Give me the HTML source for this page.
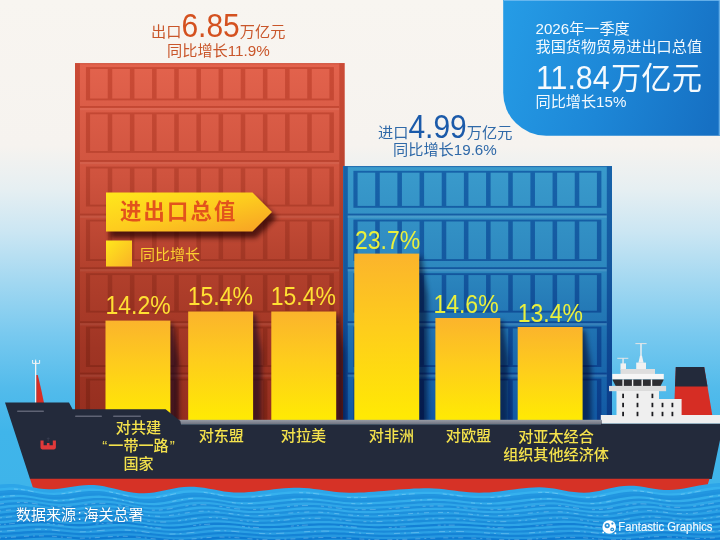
<!DOCTYPE html>
<html lang="zh-CN">
<head>
<meta charset="utf-8">
<title>2026年一季度我国货物贸易进出口总值</title>
<style>
html,body{margin:0;padding:0;background:#f6f3f0;}
body{width:720px;height:540px;overflow:hidden;position:relative;font-family:"Liberation Sans","Noto Sans CJK SC",sans-serif;}
#stage{position:absolute;left:0;top:0;width:720px;height:540px;overflow:hidden;}
svg{position:absolute;left:0;top:0;display:block;}
.t{position:absolute;white-space:nowrap;line-height:1;margin:0;padding:0;}
.s15{font-size:15px;}
.s30{font-size:30px;}
.big{font-size:30px;}
.dg{display:inline-block;transform:scaleY(1.08);transform-origin:50% 86%;}
.exp .s15,.exp.s15,.imp .s15,.imp.s15{font-size:15.2px;}
.exp{color:#c9562a;}
.exp .big{color:#d4511f;}
.imp{color:#2f69a8;}
.imp .big{color:#1b5aa9;}
.pn{color:#f4fafe;font-weight:400;}
.pn.s15{font-size:15.15px;}
.pn.s30{font-size:30.3px;}
.pn .d{margin-right:1.5px;}
.bn{font-size:21.3px;font-weight:700;color:#e2531c;letter-spacing:2.2px;}
.lg{color:#fcd030;}
.val{font-size:23px;}
.val span{display:inline-block;transform:scaleY(1.13);transform-origin:50% 100%;}
.vr{color:#ffe033;}
.vb{color:#eaf03c;}
.cat{font-size:15.1px;font-weight:500;color:#f4e24c;text-align:center;line-height:18.3px;}
.q{margin:0 1px;}
.col{margin:0 1.6px;}
.src{color:#fff;text-shadow:0 0 2px rgba(0,60,120,.5);}
.logo{font-size:11.3px;color:#f2faff;font-weight:400;-webkit-text-stroke:0.15px #f2faff;transform:scaleY(1.09);transform-origin:0 100%;}
</style>
</head>
<body>
<div id="stage">
<svg width="720" height="540" viewBox="0 0 720 540">
<defs>
<linearGradient id="bg" x1="0" y1="0" x2="0" y2="540" gradientUnits="userSpaceOnUse">
 <stop offset="0" stop-color="#f8f5f0"/>
 <stop offset="0.27" stop-color="#f6f3ef"/>
 <stop offset="0.35" stop-color="#e6eff2"/>
 <stop offset="0.43" stop-color="#cbe6f3"/>
 <stop offset="0.52" stop-color="#a3d8f1"/>
 <stop offset="0.62" stop-color="#78c9ef"/>
 <stop offset="0.72" stop-color="#52bbeb"/>
 <stop offset="0.80" stop-color="#40b5ea"/>
 <stop offset="1" stop-color="#3cb3ea"/>
</linearGradient>
<linearGradient id="panel" x1="503" y1="30" x2="720" y2="95" gradientUnits="userSpaceOnUse">
 <stop offset="0" stop-color="#259be5"/>
 <stop offset="0.5" stop-color="#1d87d7"/>
 <stop offset="1" stop-color="#1670c3"/>
</linearGradient>
<linearGradient id="rL" x1="0" y1="63" x2="0" y2="420" gradientUnits="userSpaceOnUse">
 <stop offset="0" stop-color="#e3634d"/>
 <stop offset="0.32" stop-color="#cf533e"/>
 <stop offset="0.58" stop-color="#b2402c"/>
 <stop offset="0.8" stop-color="#a03524"/>
 <stop offset="1" stop-color="#952e1f"/>
</linearGradient>
<linearGradient id="rD" x1="0" y1="63" x2="0" y2="420" gradientUnits="userSpaceOnUse">
 <stop offset="0" stop-color="#cb4b36"/>
 <stop offset="0.32" stop-color="#b9432f"/>
 <stop offset="0.58" stop-color="#9e3523"/>
 <stop offset="0.8" stop-color="#8c2b1b"/>
 <stop offset="1" stop-color="#822617"/>
</linearGradient>
<linearGradient id="bL" x1="0" y1="166" x2="0" y2="420" gradientUnits="userSpaceOnUse">
 <stop offset="0" stop-color="#3a9bcc"/>
 <stop offset="0.4" stop-color="#2d88bf"/>
 <stop offset="0.7" stop-color="#1d6daf"/>
 <stop offset="1" stop-color="#1259a4"/>
</linearGradient>
<linearGradient id="bD" x1="0" y1="166" x2="0" y2="420" gradientUnits="userSpaceOnUse">
 <stop offset="0" stop-color="#1763aa"/>
 <stop offset="0.4" stop-color="#14589f"/>
 <stop offset="0.7" stop-color="#0e4893"/>
 <stop offset="1" stop-color="#0a3b88"/>
</linearGradient>
<linearGradient id="bar" x1="0" y1="0" x2="0" y2="1">
 <stop offset="0" stop-color="#fbb42c"/>
 <stop offset="0.45" stop-color="#fecd1c"/>
 <stop offset="1" stop-color="#ffea03"/>
</linearGradient>
<linearGradient id="ban" x1="0" y1="0" x2="1" y2="1">
 <stop offset="0" stop-color="#ffe81c"/>
 <stop offset="0.5" stop-color="#fdcc1e"/>
 <stop offset="1" stop-color="#f7a025"/>
</linearGradient>
<linearGradient id="lgd" x1="0" y1="0" x2="1" y2="1">
 <stop offset="0" stop-color="#ffe81c"/>
 <stop offset="1" stop-color="#f9b226"/>
</linearGradient>
<linearGradient id="sh" x1="0" y1="0" x2="1" y2="0">
 <stop offset="0" stop-color="#000" stop-opacity="0.5"/>
 <stop offset="0.5" stop-color="#000" stop-opacity="0.3"/>
 <stop offset="1" stop-color="#000" stop-opacity="0"/>
</linearGradient>
<linearGradient id="deck" x1="0" y1="0" x2="0" y2="1">
 <stop offset="0" stop-color="#999da7"/>
 <stop offset="1" stop-color="#6a6e7b"/>
</linearGradient>
<filter id="blur3" x="-60%" y="-10%" width="220%" height="120%"><feGaussianBlur stdDeviation="2.6"/></filter>
<clipPath id="clipc"><rect x="75" y="63" width="537" height="357.5"/></clipPath>
<filter id="blur2" x="-20%" y="-20%" width="140%" height="140%"><feGaussianBlur stdDeviation="2.5"/></filter>
</defs>

<rect width="720" height="540" fill="url(#bg)"/>
<path d="M503.2 0 H720 V135.7 H546.2 A43 43 0 0 1 503.2 92.7 Z" fill="url(#panel)"/>
<rect x="504" y="0" width="216" height="1" fill="#7cc0f2" opacity="0.75"/>
<rect x="718.7" y="0" width="1.3" height="135.5" fill="#7cc0f2" opacity="0.75"/>
<g id="red"><rect x="75" y="63.3" width="269.5" height="357.7" fill="url(#rL)"/>
<rect x="75" y="63.3" width="4.9" height="357.7" fill="url(#rD)"/>
<rect x="339.3" y="63.3" width="5.2" height="357.7" fill="url(#rD)"/>
<rect x="75" y="63.3" width="269.5" height="0.9" fill="url(#rD)"/>
<rect x="79.9" y="106.0" width="259.4" height="1.9" fill="url(#rD)"/>
<rect x="79.9" y="107.9" width="259.4" height="2.3" fill="#fff" opacity="0.06"/>
<rect x="79.9" y="160.0" width="259.4" height="1.9" fill="url(#rD)"/>
<rect x="79.9" y="161.9" width="259.4" height="2.3" fill="#fff" opacity="0.06"/>
<rect x="79.9" y="213.6" width="259.4" height="1.9" fill="url(#rD)"/>
<rect x="79.9" y="215.5" width="259.4" height="2.3" fill="#fff" opacity="0.06"/>
<rect x="79.9" y="267.2" width="259.4" height="1.9" fill="url(#rD)"/>
<rect x="79.9" y="269.1" width="259.4" height="2.3" fill="#fff" opacity="0.06"/>
<rect x="79.9" y="321.2" width="259.4" height="1.9" fill="url(#rD)"/>
<rect x="79.9" y="323.1" width="259.4" height="2.3" fill="#fff" opacity="0.06"/>
<rect x="79.9" y="372.6" width="259.4" height="1.9" fill="url(#rD)"/>
<rect x="79.9" y="374.5" width="259.4" height="2.3" fill="#fff" opacity="0.06"/>
<rect x="85.9" y="67.1" width="248" height="33.3" fill="url(#rD)"/>
<rect x="90.10" y="69.0" width="17.6" height="29.5" fill="url(#rL)"/>
<rect x="112.27" y="69.0" width="17.6" height="29.5" fill="url(#rL)"/>
<rect x="134.44" y="69.0" width="17.6" height="29.5" fill="url(#rL)"/>
<rect x="156.61" y="69.0" width="17.6" height="29.5" fill="url(#rL)"/>
<rect x="178.78" y="69.0" width="17.6" height="29.5" fill="url(#rL)"/>
<rect x="200.95" y="69.0" width="17.6" height="29.5" fill="url(#rL)"/>
<rect x="223.12" y="69.0" width="17.6" height="29.5" fill="url(#rL)"/>
<rect x="245.29" y="69.0" width="17.6" height="29.5" fill="url(#rL)"/>
<rect x="267.46" y="69.0" width="17.6" height="29.5" fill="url(#rL)"/>
<rect x="289.63" y="69.0" width="17.6" height="29.5" fill="url(#rL)"/>
<rect x="311.80" y="69.0" width="17.6" height="29.5" fill="url(#rL)"/>
<rect x="85.9" y="112.4" width="248" height="40.5" fill="url(#rD)"/>
<rect x="90.10" y="114.3" width="17.6" height="36.7" fill="url(#rL)"/>
<rect x="112.27" y="114.3" width="17.6" height="36.7" fill="url(#rL)"/>
<rect x="134.44" y="114.3" width="17.6" height="36.7" fill="url(#rL)"/>
<rect x="156.61" y="114.3" width="17.6" height="36.7" fill="url(#rL)"/>
<rect x="178.78" y="114.3" width="17.6" height="36.7" fill="url(#rL)"/>
<rect x="200.95" y="114.3" width="17.6" height="36.7" fill="url(#rL)"/>
<rect x="223.12" y="114.3" width="17.6" height="36.7" fill="url(#rL)"/>
<rect x="245.29" y="114.3" width="17.6" height="36.7" fill="url(#rL)"/>
<rect x="267.46" y="114.3" width="17.6" height="36.7" fill="url(#rL)"/>
<rect x="289.63" y="114.3" width="17.6" height="36.7" fill="url(#rL)"/>
<rect x="311.80" y="114.3" width="17.6" height="36.7" fill="url(#rL)"/>
<rect x="85.9" y="166.6" width="248" height="39.9" fill="url(#rD)"/>
<rect x="90.10" y="168.5" width="17.6" height="36.1" fill="url(#rL)"/>
<rect x="112.27" y="168.5" width="17.6" height="36.1" fill="url(#rL)"/>
<rect x="134.44" y="168.5" width="17.6" height="36.1" fill="url(#rL)"/>
<rect x="156.61" y="168.5" width="17.6" height="36.1" fill="url(#rL)"/>
<rect x="178.78" y="168.5" width="17.6" height="36.1" fill="url(#rL)"/>
<rect x="200.95" y="168.5" width="17.6" height="36.1" fill="url(#rL)"/>
<rect x="223.12" y="168.5" width="17.6" height="36.1" fill="url(#rL)"/>
<rect x="245.29" y="168.5" width="17.6" height="36.1" fill="url(#rL)"/>
<rect x="267.46" y="168.5" width="17.6" height="36.1" fill="url(#rL)"/>
<rect x="289.63" y="168.5" width="17.6" height="36.1" fill="url(#rL)"/>
<rect x="311.80" y="168.5" width="17.6" height="36.1" fill="url(#rL)"/>
<rect x="85.9" y="219.6" width="248" height="41.4" fill="url(#rD)"/>
<rect x="90.10" y="221.5" width="17.6" height="37.6" fill="url(#rL)"/>
<rect x="112.27" y="221.5" width="17.6" height="37.6" fill="url(#rL)"/>
<rect x="134.44" y="221.5" width="17.6" height="37.6" fill="url(#rL)"/>
<rect x="156.61" y="221.5" width="17.6" height="37.6" fill="url(#rL)"/>
<rect x="178.78" y="221.5" width="17.6" height="37.6" fill="url(#rL)"/>
<rect x="200.95" y="221.5" width="17.6" height="37.6" fill="url(#rL)"/>
<rect x="223.12" y="221.5" width="17.6" height="37.6" fill="url(#rL)"/>
<rect x="245.29" y="221.5" width="17.6" height="37.6" fill="url(#rL)"/>
<rect x="267.46" y="221.5" width="17.6" height="37.6" fill="url(#rL)"/>
<rect x="289.63" y="221.5" width="17.6" height="37.6" fill="url(#rL)"/>
<rect x="311.80" y="221.5" width="17.6" height="37.6" fill="url(#rL)"/>
<rect x="85.9" y="273.2" width="248" height="39.4" fill="url(#rD)"/>
<rect x="90.10" y="275.1" width="17.6" height="35.6" fill="url(#rL)"/>
<rect x="112.27" y="275.1" width="17.6" height="35.6" fill="url(#rL)"/>
<rect x="134.44" y="275.1" width="17.6" height="35.6" fill="url(#rL)"/>
<rect x="156.61" y="275.1" width="17.6" height="35.6" fill="url(#rL)"/>
<rect x="178.78" y="275.1" width="17.6" height="35.6" fill="url(#rL)"/>
<rect x="200.95" y="275.1" width="17.6" height="35.6" fill="url(#rL)"/>
<rect x="223.12" y="275.1" width="17.6" height="35.6" fill="url(#rL)"/>
<rect x="245.29" y="275.1" width="17.6" height="35.6" fill="url(#rL)"/>
<rect x="267.46" y="275.1" width="17.6" height="35.6" fill="url(#rL)"/>
<rect x="289.63" y="275.1" width="17.6" height="35.6" fill="url(#rL)"/>
<rect x="311.80" y="275.1" width="17.6" height="35.6" fill="url(#rL)"/>
<rect x="85.9" y="326.6" width="248" height="40.4" fill="url(#rD)"/>
<rect x="90.10" y="328.5" width="17.6" height="36.6" fill="url(#rL)"/>
<rect x="112.27" y="328.5" width="17.6" height="36.6" fill="url(#rL)"/>
<rect x="134.44" y="328.5" width="17.6" height="36.6" fill="url(#rL)"/>
<rect x="156.61" y="328.5" width="17.6" height="36.6" fill="url(#rL)"/>
<rect x="178.78" y="328.5" width="17.6" height="36.6" fill="url(#rL)"/>
<rect x="200.95" y="328.5" width="17.6" height="36.6" fill="url(#rL)"/>
<rect x="223.12" y="328.5" width="17.6" height="36.6" fill="url(#rL)"/>
<rect x="245.29" y="328.5" width="17.6" height="36.6" fill="url(#rL)"/>
<rect x="267.46" y="328.5" width="17.6" height="36.6" fill="url(#rL)"/>
<rect x="289.63" y="328.5" width="17.6" height="36.6" fill="url(#rL)"/>
<rect x="311.80" y="328.5" width="17.6" height="36.6" fill="url(#rL)"/>
<rect x="85.9" y="378.6" width="248" height="42.4" fill="url(#rD)"/>
<rect x="90.10" y="380.5" width="17.6" height="40.5" fill="url(#rL)"/>
<rect x="112.27" y="380.5" width="17.6" height="40.5" fill="url(#rL)"/>
<rect x="134.44" y="380.5" width="17.6" height="40.5" fill="url(#rL)"/>
<rect x="156.61" y="380.5" width="17.6" height="40.5" fill="url(#rL)"/>
<rect x="178.78" y="380.5" width="17.6" height="40.5" fill="url(#rL)"/>
<rect x="200.95" y="380.5" width="17.6" height="40.5" fill="url(#rL)"/>
<rect x="223.12" y="380.5" width="17.6" height="40.5" fill="url(#rL)"/>
<rect x="245.29" y="380.5" width="17.6" height="40.5" fill="url(#rL)"/>
<rect x="267.46" y="380.5" width="17.6" height="40.5" fill="url(#rL)"/>
<rect x="289.63" y="380.5" width="17.6" height="40.5" fill="url(#rL)"/>
<rect x="311.80" y="380.5" width="17.6" height="40.5" fill="url(#rL)"/></g>
<g id="blue"><rect x="343.2" y="166.2" width="268.8" height="254.8" fill="url(#bL)"/>
<rect x="343.2" y="166.2" width="4.6" height="254.8" fill="url(#bD)"/>
<rect x="606.8" y="166.2" width="5.2" height="254.8" fill="url(#bD)"/>
<rect x="343.2" y="166.2" width="268.8" height="0.9" fill="url(#bD)"/>
<rect x="347.4" y="213.6" width="259.4" height="1.9" fill="url(#bD)"/>
<rect x="347.4" y="215.5" width="259.4" height="2.3" fill="#fff" opacity="0.1"/>
<rect x="347.4" y="267.2" width="259.4" height="1.9" fill="url(#bD)"/>
<rect x="347.4" y="269.1" width="259.4" height="2.3" fill="#fff" opacity="0.1"/>
<rect x="347.4" y="321.2" width="259.4" height="1.9" fill="url(#bD)"/>
<rect x="347.4" y="323.1" width="259.4" height="2.3" fill="#fff" opacity="0.1"/>
<rect x="347.4" y="372.6" width="259.4" height="1.9" fill="url(#bD)"/>
<rect x="347.4" y="374.5" width="259.4" height="2.3" fill="#fff" opacity="0.1"/>
<rect x="353.4" y="170.8" width="248" height="37.0" fill="url(#bD)"/>
<rect x="357.60" y="172.7" width="17.6" height="33.2" fill="url(#bL)"/>
<rect x="379.77" y="172.7" width="17.6" height="33.2" fill="url(#bL)"/>
<rect x="401.94" y="172.7" width="17.6" height="33.2" fill="url(#bL)"/>
<rect x="424.11" y="172.7" width="17.6" height="33.2" fill="url(#bL)"/>
<rect x="446.28" y="172.7" width="17.6" height="33.2" fill="url(#bL)"/>
<rect x="468.45" y="172.7" width="17.6" height="33.2" fill="url(#bL)"/>
<rect x="490.62" y="172.7" width="17.6" height="33.2" fill="url(#bL)"/>
<rect x="512.79" y="172.7" width="17.6" height="33.2" fill="url(#bL)"/>
<rect x="534.96" y="172.7" width="17.6" height="33.2" fill="url(#bL)"/>
<rect x="557.13" y="172.7" width="17.6" height="33.2" fill="url(#bL)"/>
<rect x="579.30" y="172.7" width="17.6" height="33.2" fill="url(#bL)"/>
<rect x="353.4" y="219.6" width="248" height="41.4" fill="url(#bD)"/>
<rect x="357.60" y="221.5" width="17.6" height="37.6" fill="url(#bL)"/>
<rect x="379.77" y="221.5" width="17.6" height="37.6" fill="url(#bL)"/>
<rect x="401.94" y="221.5" width="17.6" height="37.6" fill="url(#bL)"/>
<rect x="424.11" y="221.5" width="17.6" height="37.6" fill="url(#bL)"/>
<rect x="446.28" y="221.5" width="17.6" height="37.6" fill="url(#bL)"/>
<rect x="468.45" y="221.5" width="17.6" height="37.6" fill="url(#bL)"/>
<rect x="490.62" y="221.5" width="17.6" height="37.6" fill="url(#bL)"/>
<rect x="512.79" y="221.5" width="17.6" height="37.6" fill="url(#bL)"/>
<rect x="534.96" y="221.5" width="17.6" height="37.6" fill="url(#bL)"/>
<rect x="557.13" y="221.5" width="17.6" height="37.6" fill="url(#bL)"/>
<rect x="579.30" y="221.5" width="17.6" height="37.6" fill="url(#bL)"/>
<rect x="353.4" y="273.2" width="248" height="39.4" fill="url(#bD)"/>
<rect x="357.60" y="275.1" width="17.6" height="35.6" fill="url(#bL)"/>
<rect x="379.77" y="275.1" width="17.6" height="35.6" fill="url(#bL)"/>
<rect x="401.94" y="275.1" width="17.6" height="35.6" fill="url(#bL)"/>
<rect x="424.11" y="275.1" width="17.6" height="35.6" fill="url(#bL)"/>
<rect x="446.28" y="275.1" width="17.6" height="35.6" fill="url(#bL)"/>
<rect x="468.45" y="275.1" width="17.6" height="35.6" fill="url(#bL)"/>
<rect x="490.62" y="275.1" width="17.6" height="35.6" fill="url(#bL)"/>
<rect x="512.79" y="275.1" width="17.6" height="35.6" fill="url(#bL)"/>
<rect x="534.96" y="275.1" width="17.6" height="35.6" fill="url(#bL)"/>
<rect x="557.13" y="275.1" width="17.6" height="35.6" fill="url(#bL)"/>
<rect x="579.30" y="275.1" width="17.6" height="35.6" fill="url(#bL)"/>
<rect x="353.4" y="326.6" width="248" height="40.4" fill="url(#bD)"/>
<rect x="357.60" y="328.5" width="17.6" height="36.6" fill="url(#bL)"/>
<rect x="379.77" y="328.5" width="17.6" height="36.6" fill="url(#bL)"/>
<rect x="401.94" y="328.5" width="17.6" height="36.6" fill="url(#bL)"/>
<rect x="424.11" y="328.5" width="17.6" height="36.6" fill="url(#bL)"/>
<rect x="446.28" y="328.5" width="17.6" height="36.6" fill="url(#bL)"/>
<rect x="468.45" y="328.5" width="17.6" height="36.6" fill="url(#bL)"/>
<rect x="490.62" y="328.5" width="17.6" height="36.6" fill="url(#bL)"/>
<rect x="512.79" y="328.5" width="17.6" height="36.6" fill="url(#bL)"/>
<rect x="534.96" y="328.5" width="17.6" height="36.6" fill="url(#bL)"/>
<rect x="557.13" y="328.5" width="17.6" height="36.6" fill="url(#bL)"/>
<rect x="579.30" y="328.5" width="17.6" height="36.6" fill="url(#bL)"/>
<rect x="353.4" y="378.6" width="248" height="42.4" fill="url(#bD)"/>
<rect x="357.60" y="380.5" width="17.6" height="40.5" fill="url(#bL)"/>
<rect x="379.77" y="380.5" width="17.6" height="40.5" fill="url(#bL)"/>
<rect x="401.94" y="380.5" width="17.6" height="40.5" fill="url(#bL)"/>
<rect x="424.11" y="380.5" width="17.6" height="40.5" fill="url(#bL)"/>
<rect x="446.28" y="380.5" width="17.6" height="40.5" fill="url(#bL)"/>
<rect x="468.45" y="380.5" width="17.6" height="40.5" fill="url(#bL)"/>
<rect x="490.62" y="380.5" width="17.6" height="40.5" fill="url(#bL)"/>
<rect x="512.79" y="380.5" width="17.6" height="40.5" fill="url(#bL)"/>
<rect x="534.96" y="380.5" width="17.6" height="40.5" fill="url(#bL)"/>
<rect x="557.13" y="380.5" width="17.6" height="40.5" fill="url(#bL)"/>
<rect x="579.30" y="380.5" width="17.6" height="40.5" fill="url(#bL)"/></g>
<path d="M110 198 H256 L277 217.5 L256 238 H110 Z" fill="#200300" opacity="0.7" filter="url(#blur2)"/>
<path d="M106 192.5 H252.5 L272 212 L252.5 231.5 H106 Z" fill="url(#ban)"/>
<rect x="106" y="240.5" width="26" height="26" fill="url(#lgd)"/>
<path d="M166.4 323.6 L172.9 323.6 L178.9 362.6 L178.9 424 L166.4 424 Z" fill="#05001a" opacity="0.55" filter="url(#blur3)" clip-path="url(#clipc)"/>
<rect x="105.5" y="320.6" width="64.9" height="99.4" fill="url(#bar)"/>
<path d="M249.1 314.5 L255.6 314.5 L261.6 353.5 L261.6 424 L249.1 424 Z" fill="#05001a" opacity="0.55" filter="url(#blur3)" clip-path="url(#clipc)"/>
<rect x="188.2" y="311.5" width="64.9" height="108.5" fill="url(#bar)"/>
<path d="M332.2 314.5 L338.7 314.5 L344.7 353.5 L344.7 424 L332.2 424 Z" fill="#05001a" opacity="0.55" filter="url(#blur3)" clip-path="url(#clipc)"/>
<rect x="271.3" y="311.5" width="64.9" height="108.5" fill="url(#bar)"/>
<path d="M415.2 256.6 L421.7 256.6 L427.7 295.6 L427.7 424 L415.2 424 Z" fill="#05001a" opacity="0.55" filter="url(#blur3)" clip-path="url(#clipc)"/>
<rect x="354.3" y="253.6" width="64.9" height="166.4" fill="url(#bar)"/>
<path d="M496.3 321.0 L502.8 321.0 L508.8 360.0 L508.8 424 L496.3 424 Z" fill="#05001a" opacity="0.55" filter="url(#blur3)" clip-path="url(#clipc)"/>
<rect x="435.4" y="318.0" width="64.9" height="102.0" fill="url(#bar)"/>
<path d="M578.6 330.0 L585.1 330.0 L591.1 369.0 L591.1 424 L578.6 424 Z" fill="#05001a" opacity="0.55" filter="url(#blur3)" clip-path="url(#clipc)"/>
<rect x="517.7" y="327.0" width="64.9" height="93.0" fill="url(#bar)"/>
<rect x="35" y="361" width="1.3" height="42" fill="#f4f4f4"/>
<path d="M32.6 360 V363.4 H39.6 V360 M35.65 359.6 V363.4" stroke="#f4f4f4" stroke-width="1" fill="none"/>
<path d="M36.4 375 L37.8 375 Q41.5 390 44 403 L36.4 403 Z" fill="#d62d24"/>
<path d="M675.8 367 H704.2 L712.6 417 H673.8 Z" fill="#d62d24"/>
<path d="M675.8 367 H704.2 L707.5 386.5 H675 Z" fill="#232a3b"/>
<g id="bridge">
<rect x="640.3" y="343.5" width="1.4" height="13" fill="#f1f1f1"/>
<rect x="635.4" y="343.1" width="11.2" height="1" fill="#e4e4e4"/>
<path d="M640 355.7 H642 L643.6 362.8 H638.4 Z" fill="#f1f1f1"/>
<rect x="636.2" y="362.6" width="9.8" height="7" fill="#f1f1f1"/>
<rect x="622.4" y="358.2" width="1.3" height="6" fill="#f1f1f1"/>
<rect x="617.3" y="357.8" width="11" height="1" fill="#e4e4e4"/>
<rect x="620.5" y="363.4" width="5.5" height="6.4" fill="#f1f1f1"/>
<rect x="620.5" y="369" width="34.5" height="5.2" fill="#dedede"/>
<rect x="612.3" y="373.9" width="51.5" height="5.6" fill="#f6f6f6"/>
<path d="M612.3 379.4 H663.8 L660.6 385.9 H615.7 Z" fill="#2d2d31"/>
<rect x="622.4" y="379.4" width="1.4" height="6.6" fill="#f4f4f4"/>
<rect x="631.9" y="379.4" width="1.4" height="6.6" fill="#f4f4f4"/>
<rect x="641.5" y="379.4" width="1.4" height="6.6" fill="#f4f4f4"/>
<rect x="650.8" y="379.4" width="1.4" height="6.6" fill="#f4f4f4"/>
<rect x="609" y="385.9" width="57.1" height="5.3" fill="#dcdcdc"/>
<rect x="616.5" y="391" width="42.5" height="26" fill="#efefef"/>
<rect x="658.5" y="399" width="23.1" height="18" fill="#efefef"/>
<rect x="600.8" y="415" width="119.2" height="8.7" fill="#efefef"/>
<rect x="622.2" y="393.7" width="1.8" height="4.4" fill="#1c1c20"/>
<rect x="622.2" y="402.8" width="1.8" height="4.4" fill="#1c1c20"/>
<rect x="622.2" y="411.8" width="1.8" height="4.4" fill="#1c1c20"/>
<rect x="636.6" y="393.7" width="1.8" height="4.4" fill="#1c1c20"/>
<rect x="636.6" y="402.8" width="1.8" height="4.4" fill="#1c1c20"/>
<rect x="636.6" y="411.8" width="1.8" height="4.4" fill="#1c1c20"/>
<rect x="651.5" y="393.7" width="1.8" height="4.4" fill="#1c1c20"/>
<rect x="651.5" y="402.8" width="1.8" height="4.4" fill="#1c1c20"/>
<rect x="651.5" y="411.8" width="1.8" height="4.4" fill="#1c1c20"/>
<rect x="661.6" y="402.8" width="1.8" height="4.4" fill="#1c1c20"/>
<rect x="661.6" y="411.8" width="1.8" height="4.4" fill="#1c1c20"/>
<rect x="671.5" y="402.8" width="1.8" height="4.4" fill="#1c1c20"/>
<rect x="671.5" y="411.8" width="1.8" height="4.4" fill="#1c1c20"/>
</g>
<rect x="170" y="419.8" width="432" height="5" fill="url(#deck)"/>
<path d="M5 402.5 H69 L72.6 409.3 H165.6 L180.3 421 L181 424.4 H601 V423.7 H720 V440 L711.8 479 H30 Z" fill="#232a3b"/>
<path d="M30 478.8 H709.5 L707 487 L680 497 H36 Z" fill="#d63226"/>
<rect x="17" y="410.6" width="27" height="1.5" rx="0.75" fill="#5f6374"/>
<rect x="75" y="415.6" width="27" height="1.5" rx="0.75" fill="#5f6374"/>
<rect x="113" y="415.6" width="28" height="1.5" rx="0.75" fill="#5f6374"/>
<path d="M40.5 440.6 h3.1 v4.6 h3.3 v-2.2 h2.6 v2.2 h3.3 v-4.6 h3.1 v7 q0 1.8 -1.8 1.8 h-11.8 q-1.8 0 -1.8 -1.8 Z" fill="#e0393a"/><path d="M46.8 438.6 h2.8 M48.2 437.4 v4" stroke="#3a3f52" stroke-width="0.8" fill="none"/>
<path d="M-6.0 485.2 L-1.0 484.6 L4.0 484.2 L9.0 484.0 L14.0 484.1 L19.0 484.6 L24.0 485.4 L29.0 486.4 L34.0 487.5 L39.0 488.4 L44.0 489.0 L49.0 489.3 L54.0 489.2 L59.0 488.8 L64.0 488.1 L69.0 487.3 L74.0 486.5 L79.0 485.8 L84.0 485.2 L89.0 485.0 L94.0 485.1 L99.0 485.6 L104.0 486.3 L109.0 487.4 L114.0 488.5 L119.0 489.8 L124.0 490.9 L129.0 492.0 L134.0 492.7 L139.0 493.2 L144.0 493.3 L149.0 493.0 L154.0 492.4 L159.0 491.6 L164.0 490.5 L169.0 489.5 L174.0 488.4 L179.0 487.6 L184.0 487.0 L189.0 486.7 L194.0 486.8 L199.0 487.2 L204.0 487.8 L209.0 488.7 L214.0 489.6 L219.0 490.5 L224.0 491.4 L229.0 492.0 L234.0 492.4 L239.0 492.5 L244.0 492.4 L249.0 492.1 L254.0 491.7 L259.0 491.1 L264.0 490.5 L269.0 489.9 L274.0 489.3 L279.0 488.7 L284.0 488.3 L289.0 487.9 L294.0 487.7 L299.0 487.7 L304.0 487.9 L309.0 488.3 L314.0 488.9 L319.0 489.5 L324.0 490.3 L329.0 491.0 L334.0 491.7 L339.0 492.2 L344.0 492.5 L349.0 492.7 L354.0 492.7 L359.0 492.6 L364.0 492.4 L369.0 492.1 L374.0 491.7 L379.0 491.3 L384.0 490.9 L389.0 490.5 L394.0 490.0 L399.0 489.6 L404.0 489.2 L409.0 488.9 L414.0 488.6 L419.0 488.4 L424.0 488.3 L429.0 488.3 L434.0 488.5 L439.0 488.8 L444.0 489.3 L449.0 489.9 L454.0 490.6 L459.0 491.2 L464.0 491.8 L469.0 492.2 L474.0 492.6 L479.0 492.7 L484.0 492.6 L489.0 492.4 L494.0 492.0 L499.0 491.5 L504.0 490.8 L509.0 490.1 L514.0 489.4 L519.0 488.8 L524.0 488.2 L529.0 487.7 L534.0 487.4 L539.0 487.3 L544.0 487.4 L549.0 487.9 L554.0 488.6 L559.0 489.5 L564.0 490.5 L569.0 491.4 L574.0 492.1 L579.0 492.6 L584.0 492.7 L589.0 492.4 L594.0 491.8 L599.0 490.9 L604.0 489.8 L609.0 488.6 L614.0 487.5 L619.0 486.6 L624.0 486.0 L629.0 485.7 L634.0 485.8 L639.0 486.3 L644.0 487.0 L649.0 487.9 L654.0 488.8 L659.0 489.5 L664.0 489.9 L669.0 490.0 L674.0 489.7 L679.0 489.2 L684.0 488.5 L689.0 487.6 L694.0 486.6 L699.0 485.6 L704.0 484.7 L709.0 483.9 L714.0 483.4 L719.0 483.1 L724.0 483.0 L726 545 L-6 545 Z" fill="#2da5e8"/>
<path d="M-6.0 489.0 L-1.0 488.3 L4.0 487.9 L9.0 487.6 L14.0 487.6 L19.0 488.0 L24.0 488.7 L29.0 489.6 L34.0 490.6 L39.0 491.5 L44.0 492.3 L49.0 492.7 L54.0 492.7 L59.0 492.4 L64.0 491.9 L69.0 491.1 L74.0 490.3 L79.0 489.5 L84.0 488.9 L89.0 488.6 L94.0 488.6 L99.0 488.9 L104.0 489.6 L109.0 490.5 L114.0 491.6 L119.0 492.8 L124.0 493.9 L129.0 495.0 L134.0 495.8 L139.0 496.4 L144.0 496.6 L149.0 496.5 L154.0 496.0 L159.0 495.3 L164.0 494.3 L169.0 493.3 L174.0 492.2 L179.0 491.3 L184.0 490.6 L189.0 490.3 L194.0 490.2 L199.0 490.5 L204.0 491.1 L209.0 491.8 L214.0 492.7 L219.0 493.6 L224.0 494.5 L229.0 495.2 L234.0 495.7 L239.0 495.9 L244.0 495.8 L249.0 495.6 L254.0 495.2 L259.0 494.7 L264.0 494.2 L269.0 493.6 L274.0 492.9 L279.0 492.4 L284.0 491.9 L289.0 491.5 L294.0 491.3 L299.0 491.2 L304.0 491.3 L309.0 491.6 L314.0 492.1 L319.0 492.7 L324.0 493.4 L329.0 494.1 L334.0 494.8 L339.0 495.4 L344.0 495.8 L349.0 496.0 L354.0 496.0 L359.0 496.0 L364.0 495.8 L369.0 495.5 L374.0 495.2 L379.0 494.9 L384.0 494.5 L389.0 494.0 L394.0 493.6 L399.0 493.2 L404.0 492.8 L409.0 492.4 L414.0 492.1 L419.0 491.9 L424.0 491.8 L429.0 491.8 L434.0 491.9 L439.0 492.1 L444.0 492.6 L449.0 493.1 L454.0 493.7 L459.0 494.4 L464.0 495.0 L469.0 495.5 L474.0 495.8 L479.0 496.0 L484.0 496.0 L489.0 495.9 L494.0 495.5 L499.0 495.1 L504.0 494.5 L509.0 493.8 L514.0 493.1 L519.0 492.5 L524.0 491.9 L529.0 491.4 L534.0 491.0 L539.0 490.8 L544.0 490.8 L549.0 491.1 L554.0 491.8 L559.0 492.6 L564.0 493.6 L569.0 494.5 L574.0 495.3 L579.0 495.8 L584.0 496.0 L589.0 495.9 L594.0 495.4 L599.0 494.6 L604.0 493.6 L609.0 492.5 L614.0 491.4 L619.0 490.4 L624.0 489.7 L629.0 489.3 L634.0 489.3 L639.0 489.6 L644.0 490.3 L649.0 491.1 L654.0 492.0 L659.0 492.7 L664.0 493.3 L669.0 493.4 L674.0 493.3 L679.0 492.9 L684.0 492.2 L689.0 491.4 L694.0 490.5 L699.0 489.5 L704.0 488.6 L709.0 487.8 L714.0 487.1 L719.0 486.7 L724.0 486.6 L726 545 L-6 545 Z" fill="#36b1ee"/>
<path d="M-6.0 491.5 L-1.0 490.9 L4.0 490.4 L9.0 490.1 L14.0 490.0 L19.0 490.2 L24.0 490.8 L29.0 491.6 L34.0 492.6 L39.0 493.5 L44.0 494.3 L49.0 494.8 L54.0 495.0 L59.0 494.8 L64.0 494.3 L69.0 493.7 L74.0 492.9 L79.0 492.1 L84.0 491.5 L89.0 491.0 L94.0 490.9 L99.0 491.1 L104.0 491.6 L109.0 492.4 L114.0 493.5 L119.0 494.6 L124.0 495.7 L129.0 496.8 L134.0 497.7 L139.0 498.4 L144.0 498.7 L149.0 498.7 L154.0 498.4 L159.0 497.8 L164.0 496.9 L169.0 495.9 L174.0 494.8 L179.0 493.9 L184.0 493.1 L189.0 492.7 L194.0 492.5 L199.0 492.7 L204.0 493.1 L209.0 493.8 L214.0 494.6 L219.0 495.5 L224.0 496.4 L229.0 497.1 L234.0 497.7 L239.0 498.0 L244.0 498.0 L249.0 497.8 L254.0 497.5 L259.0 497.1 L264.0 496.6 L269.0 496.0 L274.0 495.4 L279.0 494.8 L284.0 494.3 L289.0 493.9 L294.0 493.6 L299.0 493.5 L304.0 493.5 L309.0 493.8 L314.0 494.2 L319.0 494.7 L324.0 495.4 L329.0 496.1 L334.0 496.8 L339.0 497.4 L344.0 497.8 L349.0 498.1 L354.0 498.2 L359.0 498.2 L364.0 498.0 L369.0 497.8 L374.0 497.5 L379.0 497.2 L384.0 496.8 L389.0 496.4 L394.0 496.0 L399.0 495.5 L404.0 495.1 L409.0 494.8 L414.0 494.5 L419.0 494.3 L424.0 494.1 L429.0 494.0 L434.0 494.1 L439.0 494.3 L444.0 494.7 L449.0 495.2 L454.0 495.7 L459.0 496.4 L464.0 497.0 L469.0 497.5 L474.0 497.9 L479.0 498.1 L484.0 498.2 L489.0 498.1 L494.0 497.8 L499.0 497.4 L504.0 496.9 L509.0 496.3 L514.0 495.6 L519.0 494.9 L524.0 494.3 L529.0 493.8 L534.0 493.4 L539.0 493.2 L544.0 493.1 L549.0 493.3 L554.0 493.8 L559.0 494.5 L564.0 495.4 L569.0 496.4 L574.0 497.2 L579.0 497.8 L584.0 498.2 L589.0 498.2 L594.0 497.8 L599.0 497.1 L604.0 496.2 L609.0 495.1 L614.0 494.0 L619.0 493.0 L624.0 492.2 L629.0 491.7 L634.0 491.6 L639.0 491.8 L644.0 492.3 L649.0 493.1 L654.0 493.9 L659.0 494.7 L664.0 495.3 L669.0 495.6 L674.0 495.6 L679.0 495.3 L684.0 494.7 L689.0 494.0 L694.0 493.1 L699.0 492.2 L704.0 491.2 L709.0 490.4 L714.0 489.7 L719.0 489.2 L724.0 489.0 L726 545 L-6 545 Z" fill="#2296e0"/>
<path d="M-6.0 494.1 L-1.0 493.5 L4.0 492.9 L9.0 492.5 L14.0 492.4 L19.0 492.4 L24.0 492.9 L29.0 493.6 L34.0 494.5 L39.0 495.5 L44.0 496.3 L49.0 496.9 L54.0 497.2 L59.0 497.1 L64.0 496.8 L69.0 496.2 L74.0 495.5 L79.0 494.7 L84.0 494.0 L89.0 493.5 L94.0 493.3 L99.0 493.3 L104.0 493.7 L109.0 494.4 L114.0 495.4 L119.0 496.4 L124.0 497.6 L129.0 498.7 L134.0 499.6 L139.0 500.3 L144.0 500.8 L149.0 500.9 L154.0 500.7 L159.0 500.2 L164.0 499.4 L169.0 498.5 L174.0 497.4 L179.0 496.5 L184.0 495.7 L189.0 495.1 L194.0 494.8 L199.0 494.9 L204.0 495.2 L209.0 495.8 L214.0 496.6 L219.0 497.4 L224.0 498.3 L229.0 499.1 L234.0 499.7 L239.0 500.1 L244.0 500.2 L249.0 500.1 L254.0 499.8 L259.0 499.5 L264.0 499.0 L269.0 498.4 L274.0 497.8 L279.0 497.3 L284.0 496.7 L289.0 496.3 L294.0 496.0 L299.0 495.8 L304.0 495.8 L309.0 495.9 L314.0 496.3 L319.0 496.8 L324.0 497.4 L329.0 498.1 L334.0 498.7 L339.0 499.4 L344.0 499.9 L349.0 500.2 L354.0 500.4 L359.0 500.3 L364.0 500.2 L369.0 500.1 L374.0 499.8 L379.0 499.5 L384.0 499.1 L389.0 498.7 L394.0 498.3 L399.0 497.9 L404.0 497.5 L409.0 497.2 L414.0 496.8 L419.0 496.6 L424.0 496.4 L429.0 496.3 L434.0 496.3 L439.0 496.5 L444.0 496.8 L449.0 497.2 L454.0 497.8 L459.0 498.3 L464.0 498.9 L469.0 499.5 L474.0 499.9 L479.0 500.2 L484.0 500.4 L489.0 500.3 L494.0 500.1 L499.0 499.8 L504.0 499.3 L509.0 498.7 L514.0 498.1 L519.0 497.4 L524.0 496.8 L529.0 496.2 L534.0 495.8 L539.0 495.5 L544.0 495.4 L549.0 495.5 L554.0 495.9 L559.0 496.5 L564.0 497.3 L569.0 498.3 L574.0 499.1 L579.0 499.8 L584.0 500.2 L589.0 500.4 L594.0 500.1 L599.0 499.6 L604.0 498.8 L609.0 497.8 L614.0 496.7 L619.0 495.7 L624.0 494.8 L629.0 494.2 L634.0 493.9 L639.0 494.0 L644.0 494.4 L649.0 495.1 L654.0 495.9 L659.0 496.7 L664.0 497.4 L669.0 497.8 L674.0 497.9 L679.0 497.6 L684.0 497.2 L689.0 496.5 L694.0 495.7 L699.0 494.8 L704.0 493.9 L709.0 493.0 L714.0 492.3 L719.0 491.8 L724.0 491.5 L726 545 L-6 545 Z" fill="#1f92de"/>
<path d="M-6.0 496.7 L-1.0 496.0 L4.0 495.4 L9.0 495.0 L14.0 494.8 L19.0 494.7 L24.0 495.1 L29.0 495.7 L34.0 496.5 L39.0 497.4 L44.0 498.3 L49.0 499.0 L54.0 499.4 L59.0 499.4 L64.0 499.2 L69.0 498.7 L74.0 498.0 L79.0 497.3 L84.0 496.6 L89.0 496.0 L94.0 495.7 L99.0 495.6 L104.0 495.9 L109.0 496.5 L114.0 497.3 L119.0 498.3 L124.0 499.4 L129.0 500.5 L134.0 501.5 L139.0 502.3 L144.0 502.8 L149.0 503.0 L154.0 503.0 L159.0 502.6 L164.0 501.9 L169.0 501.0 L174.0 500.0 L179.0 499.1 L184.0 498.2 L189.0 497.6 L194.0 497.2 L199.0 497.2 L204.0 497.4 L209.0 497.9 L214.0 498.6 L219.0 499.4 L224.0 500.2 L229.0 501.0 L234.0 501.7 L239.0 502.1 L244.0 502.3 L249.0 502.3 L254.0 502.1 L259.0 501.8 L264.0 501.3 L269.0 500.8 L274.0 500.3 L279.0 499.7 L284.0 499.2 L289.0 498.7 L294.0 498.3 L299.0 498.1 L304.0 498.0 L309.0 498.1 L314.0 498.4 L319.0 498.8 L324.0 499.4 L329.0 500.0 L334.0 500.7 L339.0 501.3 L344.0 501.9 L349.0 502.3 L354.0 502.5 L359.0 502.5 L364.0 502.4 L369.0 502.3 L374.0 502.1 L379.0 501.8 L384.0 501.4 L389.0 501.1 L394.0 500.7 L399.0 500.3 L404.0 499.9 L409.0 499.5 L414.0 499.2 L419.0 498.9 L424.0 498.7 L429.0 498.6 L434.0 498.6 L439.0 498.7 L444.0 498.9 L449.0 499.3 L454.0 499.8 L459.0 500.3 L464.0 500.9 L469.0 501.5 L474.0 501.9 L479.0 502.3 L484.0 502.5 L489.0 502.5 L494.0 502.4 L499.0 502.1 L504.0 501.6 L509.0 501.1 L514.0 500.5 L519.0 499.9 L524.0 499.3 L529.0 498.7 L534.0 498.2 L539.0 497.9 L544.0 497.7 L549.0 497.7 L554.0 498.0 L559.0 498.5 L564.0 499.3 L569.0 500.1 L574.0 501.0 L579.0 501.7 L584.0 502.3 L589.0 502.5 L594.0 502.4 L599.0 502.0 L604.0 501.3 L609.0 500.3 L614.0 499.3 L619.0 498.3 L624.0 497.4 L629.0 496.7 L634.0 496.3 L639.0 496.3 L644.0 496.6 L649.0 497.1 L654.0 497.9 L659.0 498.7 L664.0 499.4 L669.0 499.9 L674.0 500.1 L679.0 500.0 L684.0 499.6 L689.0 499.0 L694.0 498.3 L699.0 497.4 L704.0 496.6 L709.0 495.7 L714.0 494.9 L719.0 494.3 L724.0 494.0 L726 545 L-6 545 Z" fill="#33adeb"/>
<path d="M-6.0 499.3 L-1.0 498.6 L4.0 498.0 L9.0 497.5 L14.0 497.2 L19.0 497.1 L24.0 497.3 L29.0 497.8 L34.0 498.5 L39.0 499.4 L44.0 500.3 L49.0 501.0 L54.0 501.5 L59.0 501.7 L64.0 501.6 L69.0 501.2 L74.0 500.6 L79.0 499.8 L84.0 499.1 L89.0 498.5 L94.0 498.1 L99.0 498.0 L104.0 498.1 L109.0 498.6 L114.0 499.3 L119.0 500.2 L124.0 501.3 L129.0 502.3 L134.0 503.3 L139.0 504.2 L144.0 504.8 L149.0 505.1 L154.0 505.2 L159.0 504.9 L164.0 504.3 L169.0 503.5 L174.0 502.6 L179.0 501.7 L184.0 500.8 L189.0 500.1 L194.0 499.6 L199.0 499.4 L204.0 499.6 L209.0 500.0 L214.0 500.6 L219.0 501.3 L224.0 502.1 L229.0 502.9 L234.0 503.6 L239.0 504.2 L244.0 504.4 L249.0 504.5 L254.0 504.4 L259.0 504.1 L264.0 503.7 L269.0 503.2 L274.0 502.7 L279.0 502.1 L284.0 501.6 L289.0 501.1 L294.0 500.7 L299.0 500.5 L304.0 500.3 L309.0 500.4 L314.0 500.6 L319.0 500.9 L324.0 501.4 L329.0 502.0 L334.0 502.7 L339.0 503.3 L344.0 503.9 L349.0 504.3 L354.0 504.6 L359.0 504.7 L364.0 504.6 L369.0 504.5 L374.0 504.3 L379.0 504.1 L384.0 503.8 L389.0 503.4 L394.0 503.0 L399.0 502.6 L404.0 502.3 L409.0 501.9 L414.0 501.6 L419.0 501.3 L424.0 501.1 L429.0 500.9 L434.0 500.8 L439.0 500.9 L444.0 501.1 L449.0 501.4 L454.0 501.8 L459.0 502.4 L464.0 502.9 L469.0 503.5 L474.0 504.0 L479.0 504.3 L484.0 504.6 L489.0 504.7 L494.0 504.6 L499.0 504.4 L504.0 504.0 L509.0 503.5 L514.0 502.9 L519.0 502.3 L524.0 501.7 L529.0 501.1 L534.0 500.7 L539.0 500.3 L544.0 500.1 L549.0 500.0 L554.0 500.1 L559.0 500.6 L564.0 501.2 L569.0 502.1 L574.0 502.9 L579.0 503.7 L584.0 504.3 L589.0 504.6 L594.0 504.6 L599.0 504.3 L604.0 503.7 L609.0 502.9 L614.0 501.9 L619.0 500.9 L624.0 500.0 L629.0 499.2 L634.0 498.7 L639.0 498.6 L644.0 498.7 L649.0 499.2 L654.0 499.9 L659.0 500.7 L664.0 501.4 L669.0 502.0 L674.0 502.3 L679.0 502.3 L684.0 502.0 L689.0 501.5 L694.0 500.8 L699.0 500.0 L704.0 499.2 L709.0 498.3 L714.0 497.6 L719.0 496.9 L724.0 496.5 L726 545 L-6 545 Z" fill="#1f91dd"/>
<path d="M-6.0 501.8 L-1.0 501.2 L4.0 500.6 L9.0 500.0 L14.0 499.7 L19.0 499.5 L24.0 499.6 L29.0 499.9 L34.0 500.6 L39.0 501.4 L44.0 502.3 L49.0 503.1 L54.0 503.6 L59.0 503.9 L64.0 503.9 L69.0 503.6 L74.0 503.1 L79.0 502.4 L84.0 501.7 L89.0 501.1 L94.0 500.6 L99.0 500.3 L104.0 500.4 L109.0 500.7 L114.0 501.3 L119.0 502.2 L124.0 503.1 L129.0 504.2 L134.0 505.2 L139.0 506.1 L144.0 506.8 L149.0 507.2 L154.0 507.3 L159.0 507.2 L164.0 506.7 L169.0 506.0 L174.0 505.2 L179.0 504.2 L184.0 503.3 L189.0 502.6 L194.0 502.0 L199.0 501.8 L204.0 501.8 L209.0 502.1 L214.0 502.6 L219.0 503.3 L224.0 504.1 L229.0 504.9 L234.0 505.6 L239.0 506.2 L244.0 506.5 L249.0 506.7 L254.0 506.6 L259.0 506.4 L264.0 506.0 L269.0 505.6 L274.0 505.1 L279.0 504.6 L284.0 504.0 L289.0 503.5 L294.0 503.1 L299.0 502.8 L304.0 502.6 L309.0 502.6 L314.0 502.7 L319.0 503.1 L324.0 503.5 L329.0 504.1 L334.0 504.7 L339.0 505.3 L344.0 505.9 L349.0 506.3 L354.0 506.7 L359.0 506.8 L364.0 506.8 L369.0 506.7 L374.0 506.6 L379.0 506.3 L384.0 506.0 L389.0 505.7 L394.0 505.4 L399.0 505.0 L404.0 504.6 L409.0 504.2 L414.0 503.9 L419.0 503.6 L424.0 503.4 L429.0 503.2 L434.0 503.1 L439.0 503.1 L444.0 503.2 L449.0 503.5 L454.0 503.9 L459.0 504.4 L464.0 504.9 L469.0 505.5 L474.0 506.0 L479.0 506.4 L484.0 506.7 L489.0 506.8 L494.0 506.8 L499.0 506.6 L504.0 506.3 L509.0 505.9 L514.0 505.3 L519.0 504.8 L524.0 504.2 L529.0 503.6 L534.0 503.1 L539.0 502.7 L544.0 502.4 L549.0 502.3 L554.0 502.3 L559.0 502.7 L564.0 503.2 L569.0 504.0 L574.0 504.8 L579.0 505.6 L584.0 506.3 L589.0 506.7 L594.0 506.8 L599.0 506.6 L604.0 506.2 L609.0 505.4 L614.0 504.5 L619.0 503.5 L624.0 502.6 L629.0 501.8 L634.0 501.2 L639.0 500.9 L644.0 501.0 L649.0 501.3 L654.0 501.9 L659.0 502.7 L664.0 503.4 L669.0 504.1 L674.0 504.4 L679.0 504.5 L684.0 504.4 L689.0 504.0 L694.0 503.4 L699.0 502.6 L704.0 501.8 L709.0 501.0 L714.0 500.2 L719.0 499.5 L724.0 499.0 L726 545 L-6 545 Z" fill="#2fa7e8"/>
<path d="M-6.0 504.4 L-1.0 503.7 L4.0 503.1 L9.0 502.6 L14.0 502.2 L19.0 501.9 L24.0 501.9 L29.0 502.1 L34.0 502.7 L39.0 503.4 L44.0 504.3 L49.0 505.1 L54.0 505.7 L59.0 506.1 L64.0 506.2 L69.0 506.0 L74.0 505.5 L79.0 504.9 L84.0 504.2 L89.0 503.6 L94.0 503.1 L99.0 502.8 L104.0 502.7 L109.0 502.9 L114.0 503.4 L119.0 504.2 L124.0 505.1 L129.0 506.1 L134.0 507.0 L139.0 508.0 L144.0 508.7 L149.0 509.2 L154.0 509.4 L159.0 509.4 L164.0 509.1 L169.0 508.5 L174.0 507.7 L179.0 506.8 L184.0 505.9 L189.0 505.1 L194.0 504.5 L199.0 504.1 L204.0 504.1 L209.0 504.3 L214.0 504.7 L219.0 505.3 L224.0 506.0 L229.0 506.8 L234.0 507.5 L239.0 508.2 L244.0 508.6 L249.0 508.8 L254.0 508.8 L259.0 508.6 L264.0 508.3 L269.0 507.9 L274.0 507.5 L279.0 507.0 L284.0 506.4 L289.0 506.0 L294.0 505.5 L299.0 505.2 L304.0 505.0 L309.0 504.9 L314.0 505.0 L319.0 505.2 L324.0 505.6 L329.0 506.1 L334.0 506.7 L339.0 507.3 L344.0 507.9 L349.0 508.3 L354.0 508.7 L359.0 508.9 L364.0 509.0 L369.0 508.9 L374.0 508.8 L379.0 508.6 L384.0 508.3 L389.0 508.0 L394.0 507.7 L399.0 507.3 L404.0 507.0 L409.0 506.6 L414.0 506.3 L419.0 506.0 L424.0 505.7 L429.0 505.5 L434.0 505.4 L439.0 505.4 L444.0 505.4 L449.0 505.6 L454.0 506.0 L459.0 506.4 L464.0 507.0 L469.0 507.5 L474.0 508.0 L479.0 508.4 L484.0 508.7 L489.0 508.9 L494.0 509.0 L499.0 508.9 L504.0 508.6 L509.0 508.2 L514.0 507.7 L519.0 507.2 L524.0 506.6 L529.0 506.0 L534.0 505.5 L539.0 505.1 L544.0 504.8 L549.0 504.6 L554.0 504.6 L559.0 504.8 L564.0 505.3 L569.0 506.0 L574.0 506.8 L579.0 507.5 L584.0 508.2 L589.0 508.7 L594.0 509.0 L599.0 508.9 L604.0 508.5 L609.0 507.9 L614.0 507.1 L619.0 506.1 L624.0 505.2 L629.0 504.4 L634.0 503.7 L639.0 503.3 L644.0 503.3 L649.0 503.5 L654.0 504.0 L659.0 504.7 L664.0 505.4 L669.0 506.1 L674.0 506.6 L679.0 506.8 L684.0 506.7 L689.0 506.4 L694.0 505.9 L699.0 505.2 L704.0 504.4 L709.0 503.6 L714.0 502.8 L719.0 502.1 L724.0 501.6 L726 545 L-6 545 Z" fill="#1c8edc"/>
<path d="M-6.0 506.9 L-1.0 506.3 L4.0 505.7 L9.0 505.1 L14.0 504.7 L19.0 504.4 L24.0 504.2 L29.0 504.4 L34.0 504.8 L39.0 505.5 L44.0 506.3 L49.0 507.1 L54.0 507.8 L59.0 508.3 L64.0 508.4 L69.0 508.3 L74.0 508.0 L79.0 507.4 L84.0 506.8 L89.0 506.1 L94.0 505.6 L99.0 505.2 L104.0 505.0 L109.0 505.2 L114.0 505.6 L119.0 506.2 L124.0 507.0 L129.0 507.9 L134.0 508.9 L139.0 509.8 L144.0 510.6 L149.0 511.2 L154.0 511.5 L159.0 511.6 L164.0 511.4 L169.0 510.9 L174.0 510.2 L179.0 509.3 L184.0 508.5 L189.0 507.6 L194.0 507.0 L199.0 506.5 L204.0 506.4 L209.0 506.5 L214.0 506.8 L219.0 507.4 L224.0 508.0 L229.0 508.8 L234.0 509.5 L239.0 510.1 L244.0 510.6 L249.0 510.9 L254.0 511.0 L259.0 510.9 L264.0 510.6 L269.0 510.3 L274.0 509.8 L279.0 509.4 L284.0 508.9 L289.0 508.4 L294.0 507.9 L299.0 507.6 L304.0 507.3 L309.0 507.2 L314.0 507.2 L319.0 507.4 L324.0 507.7 L329.0 508.2 L334.0 508.7 L339.0 509.3 L344.0 509.8 L349.0 510.4 L354.0 510.8 L359.0 511.0 L364.0 511.1 L369.0 511.1 L374.0 511.0 L379.0 510.8 L384.0 510.6 L389.0 510.3 L394.0 510.0 L399.0 509.7 L404.0 509.3 L409.0 509.0 L414.0 508.6 L419.0 508.3 L424.0 508.1 L429.0 507.9 L434.0 507.7 L439.0 507.7 L444.0 507.7 L449.0 507.8 L454.0 508.1 L459.0 508.5 L464.0 509.0 L469.0 509.5 L474.0 510.0 L479.0 510.5 L484.0 510.8 L489.0 511.0 L494.0 511.1 L499.0 511.1 L504.0 510.9 L509.0 510.5 L514.0 510.1 L519.0 509.6 L524.0 509.0 L529.0 508.5 L534.0 508.0 L539.0 507.5 L544.0 507.2 L549.0 506.9 L554.0 506.9 L559.0 507.0 L564.0 507.4 L569.0 508.0 L574.0 508.7 L579.0 509.5 L584.0 510.2 L589.0 510.7 L594.0 511.1 L599.0 511.1 L604.0 510.9 L609.0 510.3 L614.0 509.6 L619.0 508.7 L624.0 507.8 L629.0 506.9 L634.0 506.2 L639.0 505.8 L644.0 505.6 L649.0 505.7 L654.0 506.1 L659.0 506.7 L664.0 507.4 L669.0 508.1 L674.0 508.7 L679.0 509.0 L684.0 509.0 L689.0 508.7 L694.0 508.3 L699.0 507.7 L704.0 507.0 L709.0 506.2 L714.0 505.4 L719.0 504.7 L724.0 504.1 L726 545 L-6 545 Z" fill="#32aaea"/>
<path d="M-6.0 509.4 L-1.0 508.8 L4.0 508.2 L9.0 507.6 L14.0 507.2 L19.0 506.8 L24.0 506.6 L29.0 506.7 L34.0 507.0 L39.0 507.6 L44.0 508.3 L49.0 509.1 L54.0 509.8 L59.0 510.4 L64.0 510.6 L69.0 510.6 L74.0 510.4 L79.0 509.9 L84.0 509.3 L89.0 508.7 L94.0 508.1 L99.0 507.6 L104.0 507.4 L109.0 507.4 L114.0 507.7 L119.0 508.3 L124.0 509.0 L129.0 509.9 L134.0 510.8 L139.0 511.7 L144.0 512.5 L149.0 513.2 L154.0 513.6 L159.0 513.7 L164.0 513.6 L169.0 513.2 L174.0 512.6 L179.0 511.8 L184.0 511.0 L189.0 510.2 L194.0 509.5 L199.0 509.0 L204.0 508.7 L209.0 508.7 L214.0 509.0 L219.0 509.4 L224.0 510.0 L229.0 510.7 L234.0 511.5 L239.0 512.1 L244.0 512.7 L249.0 513.0 L254.0 513.1 L259.0 513.1 L264.0 512.9 L269.0 512.6 L274.0 512.2 L279.0 511.7 L284.0 511.3 L289.0 510.8 L294.0 510.3 L299.0 510.0 L304.0 509.7 L309.0 509.5 L314.0 509.5 L319.0 509.6 L324.0 509.8 L329.0 510.2 L334.0 510.7 L339.0 511.3 L344.0 511.9 L349.0 512.4 L354.0 512.8 L359.0 513.1 L364.0 513.3 L369.0 513.3 L374.0 513.2 L379.0 513.1 L384.0 512.9 L389.0 512.6 L394.0 512.3 L399.0 512.0 L404.0 511.6 L409.0 511.3 L414.0 511.0 L419.0 510.7 L424.0 510.4 L429.0 510.2 L434.0 510.0 L439.0 509.9 L444.0 509.9 L449.0 510.0 L454.0 510.2 L459.0 510.6 L464.0 511.0 L469.0 511.5 L474.0 512.0 L479.0 512.5 L484.0 512.9 L489.0 513.1 L494.0 513.3 L499.0 513.3 L504.0 513.1 L509.0 512.8 L514.0 512.4 L519.0 512.0 L524.0 511.5 L529.0 510.9 L534.0 510.4 L539.0 509.9 L544.0 509.6 L549.0 509.3 L554.0 509.2 L559.0 509.2 L564.0 509.5 L569.0 510.0 L574.0 510.7 L579.0 511.4 L584.0 512.1 L589.0 512.7 L594.0 513.1 L599.0 513.3 L604.0 513.1 L609.0 512.7 L614.0 512.1 L619.0 511.3 L624.0 510.4 L629.0 509.5 L634.0 508.8 L639.0 508.2 L644.0 508.0 L649.0 508.0 L654.0 508.3 L659.0 508.8 L664.0 509.5 L669.0 510.2 L674.0 510.7 L679.0 511.1 L684.0 511.2 L689.0 511.1 L694.0 510.7 L699.0 510.2 L704.0 509.5 L709.0 508.8 L714.0 508.0 L719.0 507.3 L724.0 506.7 L726 545 L-6 545 Z" fill="#1e90dc"/>
<path d="M-6.0 511.8 L-1.0 511.3 L4.0 510.7 L9.0 510.2 L14.0 509.7 L19.0 509.3 L24.0 509.1 L29.0 509.0 L34.0 509.2 L39.0 509.7 L44.0 510.4 L49.0 511.1 L54.0 511.9 L59.0 512.5 L64.0 512.8 L69.0 512.9 L74.0 512.7 L79.0 512.4 L84.0 511.8 L89.0 511.2 L94.0 510.6 L99.0 510.1 L104.0 509.8 L109.0 509.7 L114.0 509.9 L119.0 510.4 L124.0 511.0 L129.0 511.8 L134.0 512.7 L139.0 513.6 L144.0 514.4 L149.0 515.1 L154.0 515.6 L159.0 515.9 L164.0 515.8 L169.0 515.5 L174.0 515.0 L179.0 514.3 L184.0 513.5 L189.0 512.7 L194.0 512.0 L199.0 511.4 L204.0 511.1 L209.0 511.0 L214.0 511.2 L219.0 511.5 L224.0 512.1 L229.0 512.7 L234.0 513.4 L239.0 514.1 L244.0 514.7 L249.0 515.1 L254.0 515.3 L259.0 515.3 L264.0 515.1 L269.0 514.9 L274.0 514.5 L279.0 514.1 L284.0 513.7 L289.0 513.2 L294.0 512.7 L299.0 512.3 L304.0 512.0 L309.0 511.8 L314.0 511.7 L319.0 511.8 L324.0 512.0 L329.0 512.3 L334.0 512.8 L339.0 513.3 L344.0 513.9 L349.0 514.4 L354.0 514.8 L359.0 515.2 L364.0 515.4 L369.0 515.4 L374.0 515.4 L379.0 515.3 L384.0 515.1 L389.0 514.9 L394.0 514.6 L399.0 514.3 L404.0 514.0 L409.0 513.6 L414.0 513.3 L419.0 513.0 L424.0 512.7 L429.0 512.5 L434.0 512.3 L439.0 512.2 L444.0 512.2 L449.0 512.2 L454.0 512.4 L459.0 512.7 L464.0 513.1 L469.0 513.6 L474.0 514.0 L479.0 514.5 L484.0 514.9 L489.0 515.2 L494.0 515.4 L499.0 515.4 L504.0 515.3 L509.0 515.1 L514.0 514.8 L519.0 514.3 L524.0 513.9 L529.0 513.3 L534.0 512.8 L539.0 512.4 L544.0 512.0 L549.0 511.7 L554.0 511.5 L559.0 511.4 L564.0 511.6 L569.0 512.1 L574.0 512.7 L579.0 513.4 L584.0 514.1 L589.0 514.7 L594.0 515.2 L599.0 515.4 L604.0 515.4 L609.0 515.1 L614.0 514.5 L619.0 513.8 L624.0 512.9 L629.0 512.1 L634.0 511.3 L639.0 510.7 L644.0 510.4 L649.0 510.3 L654.0 510.5 L659.0 510.9 L664.0 511.5 L669.0 512.2 L674.0 512.8 L679.0 513.2 L684.0 513.4 L689.0 513.4 L694.0 513.1 L699.0 512.7 L704.0 512.1 L709.0 511.4 L714.0 510.6 L719.0 509.9 L724.0 509.3 L726 545 L-6 545 Z" fill="#2ba2e6"/>
<path d="M-6.0 514.3 L-1.0 513.8 L4.0 513.3 L9.0 512.7 L14.0 512.2 L19.0 511.8 L24.0 511.5 L29.0 511.4 L34.0 511.5 L39.0 511.9 L44.0 512.4 L49.0 513.2 L54.0 513.9 L59.0 514.5 L64.0 515.0 L69.0 515.2 L74.0 515.1 L79.0 514.8 L84.0 514.3 L89.0 513.7 L94.0 513.1 L99.0 512.6 L104.0 512.3 L109.0 512.1 L114.0 512.2 L119.0 512.5 L124.0 513.1 L129.0 513.8 L134.0 514.7 L139.0 515.5 L144.0 516.4 L149.0 517.1 L154.0 517.6 L159.0 517.9 L164.0 518.0 L169.0 517.8 L174.0 517.4 L179.0 516.8 L184.0 516.0 L189.0 515.2 L194.0 514.5 L199.0 513.9 L204.0 513.5 L209.0 513.3 L214.0 513.4 L219.0 513.7 L224.0 514.1 L229.0 514.7 L234.0 515.4 L239.0 516.1 L244.0 516.7 L249.0 517.1 L254.0 517.4 L259.0 517.4 L264.0 517.4 L269.0 517.2 L274.0 516.8 L279.0 516.5 L284.0 516.0 L289.0 515.6 L294.0 515.1 L299.0 514.7 L304.0 514.4 L309.0 514.2 L314.0 514.0 L319.0 514.0 L324.0 514.2 L329.0 514.5 L334.0 514.9 L339.0 515.4 L344.0 515.9 L349.0 516.4 L354.0 516.9 L359.0 517.2 L364.0 517.5 L369.0 517.6 L374.0 517.6 L379.0 517.5 L384.0 517.3 L389.0 517.1 L394.0 516.9 L399.0 516.6 L404.0 516.3 L409.0 516.0 L414.0 515.7 L419.0 515.4 L424.0 515.1 L429.0 514.8 L434.0 514.7 L439.0 514.5 L444.0 514.5 L449.0 514.5 L454.0 514.6 L459.0 514.8 L464.0 515.2 L469.0 515.6 L474.0 516.1 L479.0 516.5 L484.0 516.9 L489.0 517.3 L494.0 517.5 L499.0 517.6 L504.0 517.5 L509.0 517.4 L514.0 517.1 L519.0 516.7 L524.0 516.2 L529.0 515.7 L534.0 515.2 L539.0 514.8 L544.0 514.4 L549.0 514.0 L554.0 513.8 L559.0 513.7 L564.0 513.8 L569.0 514.2 L574.0 514.7 L579.0 515.3 L584.0 516.0 L589.0 516.7 L594.0 517.2 L599.0 517.5 L604.0 517.6 L609.0 517.4 L614.0 516.9 L619.0 516.3 L624.0 515.5 L629.0 514.6 L634.0 513.9 L639.0 513.2 L644.0 512.8 L649.0 512.6 L654.0 512.7 L659.0 513.0 L664.0 513.6 L669.0 514.2 L674.0 514.8 L679.0 515.3 L684.0 515.6 L689.0 515.6 L694.0 515.5 L699.0 515.1 L704.0 514.6 L709.0 513.9 L714.0 513.2 L719.0 512.5 L724.0 511.9 L726 545 L-6 545 Z" fill="#1888d8"/>
<path d="M-6.0 516.7 L-1.0 516.3 L4.0 515.8 L9.0 515.2 L14.0 514.7 L19.0 514.3 L24.0 514.0 L29.0 513.8 L34.0 513.8 L39.0 514.1 L44.0 514.6 L49.0 515.2 L54.0 515.9 L59.0 516.6 L64.0 517.1 L69.0 517.4 L74.0 517.4 L79.0 517.2 L84.0 516.8 L89.0 516.2 L94.0 515.7 L99.0 515.1 L104.0 514.7 L109.0 514.5 L114.0 514.5 L119.0 514.7 L124.0 515.2 L129.0 515.8 L134.0 516.6 L139.0 517.5 L144.0 518.3 L149.0 519.0 L154.0 519.6 L159.0 520.0 L164.0 520.2 L169.0 520.1 L174.0 519.7 L179.0 519.2 L184.0 518.5 L189.0 517.8 L194.0 517.0 L199.0 516.4 L204.0 515.9 L209.0 515.7 L214.0 515.6 L219.0 515.8 L224.0 516.2 L229.0 516.8 L234.0 517.4 L239.0 518.1 L244.0 518.7 L249.0 519.1 L254.0 519.5 L259.0 519.6 L264.0 519.6 L269.0 519.4 L274.0 519.1 L279.0 518.8 L284.0 518.4 L289.0 518.0 L294.0 517.5 L299.0 517.1 L304.0 516.8 L309.0 516.5 L314.0 516.4 L319.0 516.3 L324.0 516.4 L329.0 516.6 L334.0 517.0 L339.0 517.4 L344.0 517.9 L349.0 518.4 L354.0 518.9 L359.0 519.3 L364.0 519.6 L369.0 519.7 L374.0 519.7 L379.0 519.7 L384.0 519.6 L389.0 519.4 L394.0 519.2 L399.0 518.9 L404.0 518.6 L409.0 518.3 L414.0 518.0 L419.0 517.7 L424.0 517.4 L429.0 517.2 L434.0 517.0 L439.0 516.8 L444.0 516.7 L449.0 516.7 L454.0 516.8 L459.0 517.0 L464.0 517.3 L469.0 517.7 L474.0 518.1 L479.0 518.6 L484.0 519.0 L489.0 519.3 L494.0 519.6 L499.0 519.7 L504.0 519.7 L509.0 519.6 L514.0 519.4 L519.0 519.0 L524.0 518.6 L529.0 518.1 L534.0 517.7 L539.0 517.2 L544.0 516.8 L549.0 516.4 L554.0 516.2 L559.0 516.0 L564.0 516.1 L569.0 516.3 L574.0 516.7 L579.0 517.3 L584.0 518.0 L589.0 518.7 L594.0 519.2 L599.0 519.6 L604.0 519.7 L609.0 519.6 L614.0 519.3 L619.0 518.7 L624.0 518.0 L629.0 517.2 L634.0 516.4 L639.0 515.7 L644.0 515.2 L649.0 515.0 L654.0 515.0 L659.0 515.2 L664.0 515.7 L669.0 516.3 L674.0 516.9 L679.0 517.4 L684.0 517.8 L689.0 517.9 L694.0 517.8 L699.0 517.5 L704.0 517.0 L709.0 516.4 L714.0 515.8 L719.0 515.1 L724.0 514.4 L726 545 L-6 545 Z" fill="#2aa0e4"/>
<path d="M-6.0 519.1 L-1.0 518.7 L4.0 518.2 L9.0 517.7 L14.0 517.2 L19.0 516.8 L24.0 516.4 L29.0 516.2 L34.0 516.1 L39.0 516.3 L44.0 516.7 L49.0 517.3 L54.0 518.0 L59.0 518.6 L64.0 519.2 L69.0 519.5 L74.0 519.6 L79.0 519.5 L84.0 519.2 L89.0 518.7 L94.0 518.2 L99.0 517.6 L104.0 517.2 L109.0 516.9 L114.0 516.8 L119.0 517.0 L124.0 517.3 L129.0 517.9 L134.0 518.6 L139.0 519.4 L144.0 520.2 L149.0 521.0 L154.0 521.6 L159.0 522.0 L164.0 522.3 L169.0 522.3 L174.0 522.0 L179.0 521.6 L184.0 520.9 L189.0 520.2 L194.0 519.5 L199.0 518.9 L204.0 518.3 L209.0 518.0 L214.0 517.9 L219.0 518.1 L224.0 518.4 L229.0 518.8 L234.0 519.4 L239.0 520.0 L244.0 520.6 L249.0 521.2 L254.0 521.5 L259.0 521.7 L264.0 521.7 L269.0 521.6 L274.0 521.4 L279.0 521.1 L284.0 520.7 L289.0 520.3 L294.0 519.9 L299.0 519.5 L304.0 519.2 L309.0 518.9 L314.0 518.7 L319.0 518.6 L324.0 518.6 L329.0 518.8 L334.0 519.1 L339.0 519.5 L344.0 520.0 L349.0 520.4 L354.0 520.9 L359.0 521.3 L364.0 521.6 L369.0 521.8 L374.0 521.9 L379.0 521.9 L384.0 521.8 L389.0 521.6 L394.0 521.4 L399.0 521.2 L404.0 520.9 L409.0 520.6 L414.0 520.3 L419.0 520.0 L424.0 519.8 L429.0 519.5 L434.0 519.3 L439.0 519.1 L444.0 519.0 L449.0 519.0 L454.0 519.0 L459.0 519.2 L464.0 519.4 L469.0 519.8 L474.0 520.2 L479.0 520.6 L484.0 521.0 L489.0 521.4 L494.0 521.7 L499.0 521.8 L504.0 521.9 L509.0 521.8 L514.0 521.6 L519.0 521.3 L524.0 521.0 L529.0 520.5 L534.0 520.1 L539.0 519.6 L544.0 519.2 L549.0 518.8 L554.0 518.5 L559.0 518.4 L564.0 518.3 L569.0 518.5 L574.0 518.8 L579.0 519.4 L584.0 520.0 L589.0 520.6 L594.0 521.2 L599.0 521.6 L604.0 521.9 L609.0 521.9 L614.0 521.6 L619.0 521.1 L624.0 520.5 L629.0 519.7 L634.0 519.0 L639.0 518.3 L644.0 517.7 L649.0 517.4 L654.0 517.3 L659.0 517.4 L664.0 517.8 L669.0 518.3 L674.0 518.9 L679.0 519.5 L684.0 519.9 L689.0 520.1 L694.0 520.1 L699.0 519.8 L704.0 519.4 L709.0 518.9 L714.0 518.3 L719.0 517.7 L724.0 517.0 L726 545 L-6 545 Z" fill="#1b8cda"/>
<path d="M-6.0 521.5 L-1.0 521.1 L4.0 520.7 L9.0 520.2 L14.0 519.7 L19.0 519.3 L24.0 518.9 L29.0 518.6 L34.0 518.5 L39.0 518.6 L44.0 518.9 L49.0 519.4 L54.0 520.0 L59.0 520.7 L64.0 521.3 L69.0 521.7 L74.0 521.9 L79.0 521.8 L84.0 521.6 L89.0 521.2 L94.0 520.7 L99.0 520.1 L104.0 519.7 L109.0 519.3 L114.0 519.2 L119.0 519.2 L124.0 519.5 L129.0 520.0 L134.0 520.6 L139.0 521.4 L144.0 522.2 L149.0 522.9 L154.0 523.6 L159.0 524.0 L164.0 524.3 L169.0 524.4 L174.0 524.3 L179.0 523.9 L184.0 523.4 L189.0 522.7 L194.0 522.0 L199.0 521.4 L204.0 520.8 L209.0 520.4 L214.0 520.2 L219.0 520.3 L224.0 520.5 L229.0 520.9 L234.0 521.5 L239.0 522.1 L244.0 522.6 L249.0 523.2 L254.0 523.6 L259.0 523.9 L264.0 523.9 L269.0 523.8 L274.0 523.7 L279.0 523.4 L284.0 523.1 L289.0 522.7 L294.0 522.3 L299.0 521.9 L304.0 521.5 L309.0 521.2 L314.0 521.0 L319.0 520.9 L324.0 520.9 L329.0 521.0 L334.0 521.2 L339.0 521.6 L344.0 522.0 L349.0 522.5 L354.0 523.0 L359.0 523.4 L364.0 523.7 L369.0 523.9 L374.0 524.0 L379.0 524.0 L384.0 524.0 L389.0 523.8 L394.0 523.7 L399.0 523.4 L404.0 523.2 L409.0 522.9 L414.0 522.6 L419.0 522.4 L424.0 522.1 L429.0 521.8 L434.0 521.6 L439.0 521.5 L444.0 521.3 L449.0 521.3 L454.0 521.3 L459.0 521.4 L464.0 521.6 L469.0 521.9 L474.0 522.3 L479.0 522.7 L484.0 523.1 L489.0 523.5 L494.0 523.8 L499.0 524.0 L504.0 524.0 L509.0 524.0 L514.0 523.9 L519.0 523.6 L524.0 523.3 L529.0 522.9 L534.0 522.4 L539.0 522.0 L544.0 521.6 L549.0 521.2 L554.0 520.9 L559.0 520.7 L564.0 520.6 L569.0 520.7 L574.0 521.0 L579.0 521.4 L584.0 522.0 L589.0 522.6 L594.0 523.2 L599.0 523.7 L604.0 524.0 L609.0 524.0 L614.0 523.9 L619.0 523.5 L624.0 522.9 L629.0 522.2 L634.0 521.5 L639.0 520.8 L644.0 520.2 L649.0 519.8 L654.0 519.6 L659.0 519.7 L664.0 520.0 L669.0 520.4 L674.0 521.0 L679.0 521.6 L684.0 522.0 L689.0 522.3 L694.0 522.3 L699.0 522.2 L704.0 521.8 L709.0 521.4 L714.0 520.8 L719.0 520.2 L724.0 519.6 L726 545 L-6 545 Z" fill="#2ea5e7"/>
<path d="M-6.0 523.8 L-1.0 523.5 L4.0 523.2 L9.0 522.7 L14.0 522.2 L19.0 521.8 L24.0 521.4 L29.0 521.1 L34.0 520.9 L39.0 520.9 L44.0 521.1 L49.0 521.6 L54.0 522.1 L59.0 522.8 L64.0 523.4 L69.0 523.8 L74.0 524.1 L79.0 524.1 L84.0 523.9 L89.0 523.6 L94.0 523.1 L99.0 522.6 L104.0 522.1 L109.0 521.8 L114.0 521.6 L119.0 521.5 L124.0 521.7 L129.0 522.1 L134.0 522.7 L139.0 523.4 L144.0 524.1 L149.0 524.9 L154.0 525.5 L159.0 526.0 L164.0 526.4 L169.0 526.6 L174.0 526.5 L179.0 526.2 L184.0 525.8 L189.0 525.2 L194.0 524.5 L199.0 523.8 L204.0 523.3 L209.0 522.8 L214.0 522.6 L219.0 522.6 L224.0 522.7 L229.0 523.1 L234.0 523.5 L239.0 524.1 L244.0 524.7 L249.0 525.2 L254.0 525.6 L259.0 525.9 L264.0 526.1 L269.0 526.0 L274.0 525.9 L279.0 525.7 L284.0 525.4 L289.0 525.0 L294.0 524.7 L299.0 524.3 L304.0 523.9 L309.0 523.6 L314.0 523.4 L319.0 523.2 L324.0 523.2 L329.0 523.2 L334.0 523.4 L339.0 523.7 L344.0 524.1 L349.0 524.5 L354.0 525.0 L359.0 525.4 L364.0 525.8 L369.0 526.0 L374.0 526.2 L379.0 526.2 L384.0 526.1 L389.0 526.0 L394.0 525.9 L399.0 525.7 L404.0 525.5 L409.0 525.2 L414.0 524.9 L419.0 524.7 L424.0 524.4 L429.0 524.2 L434.0 523.9 L439.0 523.8 L444.0 523.6 L449.0 523.6 L454.0 523.5 L459.0 523.6 L464.0 523.8 L469.0 524.0 L474.0 524.4 L479.0 524.7 L484.0 525.1 L489.0 525.5 L494.0 525.8 L499.0 526.1 L504.0 526.2 L509.0 526.2 L514.0 526.1 L519.0 525.9 L524.0 525.6 L529.0 525.2 L534.0 524.8 L539.0 524.4 L544.0 524.0 L549.0 523.6 L554.0 523.3 L559.0 523.1 L564.0 522.9 L569.0 522.9 L574.0 523.1 L579.0 523.5 L584.0 524.0 L589.0 524.6 L594.0 525.2 L599.0 525.7 L604.0 526.0 L609.0 526.2 L614.0 526.1 L619.0 525.8 L624.0 525.3 L629.0 524.7 L634.0 524.0 L639.0 523.3 L644.0 522.7 L649.0 522.2 L654.0 522.0 L659.0 522.0 L664.0 522.2 L669.0 522.6 L674.0 523.1 L679.0 523.6 L684.0 524.1 L689.0 524.4 L694.0 524.6 L699.0 524.5 L704.0 524.2 L709.0 523.8 L714.0 523.3 L719.0 522.7 L724.0 522.1 L726 545 L-6 545 Z" fill="#1380d5"/>
<path d="M-6.0 526.1 L-1.0 525.9 L4.0 525.6 L9.0 525.2 L14.0 524.7 L19.0 524.3 L24.0 523.9 L29.0 523.6 L34.0 523.4 L39.0 523.3 L44.0 523.4 L49.0 523.8 L54.0 524.3 L59.0 524.9 L64.0 525.4 L69.0 525.9 L74.0 526.3 L79.0 526.4 L84.0 526.3 L89.0 526.0 L94.0 525.6 L99.0 525.1 L104.0 524.6 L109.0 524.2 L114.0 524.0 L119.0 523.9 L124.0 524.0 L129.0 524.3 L134.0 524.8 L139.0 525.4 L144.0 526.1 L149.0 526.8 L154.0 527.5 L159.0 528.0 L164.0 528.5 L169.0 528.7 L174.0 528.7 L179.0 528.5 L184.0 528.1 L189.0 527.6 L194.0 526.9 L199.0 526.3 L204.0 525.7 L209.0 525.3 L214.0 525.0 L219.0 524.9 L224.0 525.0 L229.0 525.2 L234.0 525.6 L239.0 526.1 L244.0 526.7 L249.0 527.2 L254.0 527.7 L259.0 528.0 L264.0 528.2 L269.0 528.2 L274.0 528.1 L279.0 528.0 L284.0 527.7 L289.0 527.4 L294.0 527.0 L299.0 526.6 L304.0 526.3 L309.0 526.0 L314.0 525.7 L319.0 525.5 L324.0 525.4 L329.0 525.5 L334.0 525.6 L339.0 525.9 L344.0 526.2 L349.0 526.6 L354.0 527.0 L359.0 527.5 L364.0 527.8 L369.0 528.1 L374.0 528.3 L379.0 528.4 L384.0 528.3 L389.0 528.2 L394.0 528.1 L399.0 527.9 L404.0 527.7 L409.0 527.5 L414.0 527.2 L419.0 527.0 L424.0 526.7 L429.0 526.5 L434.0 526.3 L439.0 526.1 L444.0 525.9 L449.0 525.8 L454.0 525.8 L459.0 525.8 L464.0 525.9 L469.0 526.2 L474.0 526.5 L479.0 526.8 L484.0 527.2 L489.0 527.6 L494.0 527.9 L499.0 528.1 L504.0 528.3 L509.0 528.4 L514.0 528.3 L519.0 528.1 L524.0 527.9 L529.0 527.6 L534.0 527.2 L539.0 526.8 L544.0 526.4 L549.0 526.0 L554.0 525.7 L559.0 525.4 L564.0 525.3 L569.0 525.2 L574.0 525.3 L579.0 525.6 L584.0 526.1 L589.0 526.6 L594.0 527.2 L599.0 527.7 L604.0 528.1 L609.0 528.3 L614.0 528.3 L619.0 528.1 L624.0 527.7 L629.0 527.2 L634.0 526.5 L639.0 525.8 L644.0 525.2 L649.0 524.7 L654.0 524.4 L659.0 524.3 L664.0 524.4 L669.0 524.7 L674.0 525.2 L679.0 525.7 L684.0 526.2 L689.0 526.6 L694.0 526.8 L699.0 526.7 L704.0 526.6 L709.0 526.2 L714.0 525.8 L719.0 525.2 L724.0 524.7 L726 545 L-6 545 Z" fill="#2fa6e7"/>
<path d="M-6.0 528.4 L-1.0 528.3 L4.0 528.0 L9.0 527.6 L14.0 527.2 L19.0 526.8 L24.0 526.4 L29.0 526.0 L34.0 525.8 L39.0 525.7 L44.0 525.7 L49.0 526.0 L54.0 526.4 L59.0 527.0 L64.0 527.5 L69.0 528.0 L74.0 528.4 L79.0 528.6 L84.0 528.6 L89.0 528.4 L94.0 528.0 L99.0 527.6 L104.0 527.1 L109.0 526.7 L114.0 526.4 L119.0 526.2 L124.0 526.3 L129.0 526.5 L134.0 526.9 L139.0 527.5 L144.0 528.1 L149.0 528.8 L154.0 529.5 L159.0 530.0 L164.0 530.5 L169.0 530.8 L174.0 530.8 L179.0 530.7 L184.0 530.4 L189.0 530.0 L194.0 529.4 L199.0 528.8 L204.0 528.2 L209.0 527.7 L214.0 527.3 L219.0 527.2 L224.0 527.2 L229.0 527.4 L234.0 527.8 L239.0 528.2 L244.0 528.7 L249.0 529.2 L254.0 529.7 L259.0 530.1 L264.0 530.3 L269.0 530.4 L274.0 530.3 L279.0 530.2 L284.0 530.0 L289.0 529.7 L294.0 529.4 L299.0 529.0 L304.0 528.6 L309.0 528.3 L314.0 528.1 L319.0 527.9 L324.0 527.8 L329.0 527.7 L334.0 527.8 L339.0 528.0 L344.0 528.3 L349.0 528.7 L354.0 529.1 L359.0 529.5 L364.0 529.9 L369.0 530.2 L374.0 530.4 L379.0 530.5 L384.0 530.5 L389.0 530.4 L394.0 530.3 L399.0 530.2 L404.0 530.0 L409.0 529.8 L414.0 529.5 L419.0 529.3 L424.0 529.0 L429.0 528.8 L434.0 528.6 L439.0 528.4 L444.0 528.2 L449.0 528.1 L454.0 528.1 L459.0 528.1 L464.0 528.1 L469.0 528.3 L474.0 528.6 L479.0 528.9 L484.0 529.3 L489.0 529.6 L494.0 530.0 L499.0 530.2 L504.0 530.4 L509.0 530.5 L514.0 530.5 L519.0 530.4 L524.0 530.2 L529.0 529.9 L534.0 529.5 L539.0 529.1 L544.0 528.7 L549.0 528.4 L554.0 528.0 L559.0 527.8 L564.0 527.6 L569.0 527.5 L574.0 527.6 L579.0 527.8 L584.0 528.2 L589.0 528.7 L594.0 529.2 L599.0 529.7 L604.0 530.2 L609.0 530.4 L614.0 530.5 L619.0 530.4 L624.0 530.1 L629.0 529.6 L634.0 529.0 L639.0 528.3 L644.0 527.7 L649.0 527.2 L654.0 526.8 L659.0 526.6 L664.0 526.7 L669.0 526.9 L674.0 527.3 L679.0 527.8 L684.0 528.3 L689.0 528.7 L694.0 529.0 L699.0 529.0 L704.0 528.9 L709.0 528.6 L714.0 528.2 L719.0 527.7 L724.0 527.2 L726 545 L-6 545 Z" fill="#1a89d9"/>
<path d="M-6.0 530.7 L-1.0 530.6 L4.0 530.4 L9.0 530.0 L14.0 529.7 L19.0 529.2 L24.0 528.8 L29.0 528.5 L34.0 528.2 L39.0 528.1 L44.0 528.1 L49.0 528.2 L54.0 528.6 L59.0 529.1 L64.0 529.6 L69.0 530.1 L74.0 530.6 L79.0 530.8 L84.0 530.9 L89.0 530.7 L94.0 530.4 L99.0 530.0 L104.0 529.6 L109.0 529.2 L114.0 528.8 L119.0 528.6 L124.0 528.6 L129.0 528.7 L134.0 529.1 L139.0 529.6 L144.0 530.1 L149.0 530.8 L154.0 531.4 L159.0 532.0 L164.0 532.5 L169.0 532.8 L174.0 533.0 L179.0 532.9 L184.0 532.7 L189.0 532.3 L194.0 531.8 L199.0 531.2 L204.0 530.6 L209.0 530.1 L214.0 529.7 L219.0 529.5 L224.0 529.5 L229.0 529.6 L234.0 529.9 L239.0 530.3 L244.0 530.8 L249.0 531.3 L254.0 531.8 L259.0 532.1 L264.0 532.4 L269.0 532.6 L274.0 532.5 L279.0 532.4 L284.0 532.2 L289.0 532.0 L294.0 531.7 L299.0 531.3 L304.0 531.0 L309.0 530.7 L314.0 530.4 L319.0 530.2 L324.0 530.1 L329.0 530.0 L334.0 530.1 L339.0 530.2 L344.0 530.5 L349.0 530.8 L354.0 531.2 L359.0 531.6 L364.0 531.9 L369.0 532.3 L374.0 532.5 L379.0 532.6 L384.0 532.7 L389.0 532.6 L394.0 532.5 L399.0 532.4 L404.0 532.2 L409.0 532.0 L414.0 531.8 L419.0 531.6 L424.0 531.3 L429.0 531.1 L434.0 530.9 L439.0 530.7 L444.0 530.6 L449.0 530.4 L454.0 530.4 L459.0 530.3 L464.0 530.4 L469.0 530.5 L474.0 530.7 L479.0 531.0 L484.0 531.4 L489.0 531.7 L494.0 532.0 L499.0 532.3 L504.0 532.5 L509.0 532.6 L514.0 532.7 L519.0 532.6 L524.0 532.4 L529.0 532.2 L534.0 531.8 L539.0 531.5 L544.0 531.1 L549.0 530.7 L554.0 530.4 L559.0 530.1 L564.0 529.9 L569.0 529.8 L574.0 529.8 L579.0 530.0 L584.0 530.3 L589.0 530.7 L594.0 531.2 L599.0 531.8 L604.0 532.2 L609.0 532.5 L614.0 532.7 L619.0 532.6 L624.0 532.4 L629.0 531.9 L634.0 531.4 L639.0 530.8 L644.0 530.2 L649.0 529.6 L654.0 529.2 L659.0 529.0 L664.0 529.0 L669.0 529.1 L674.0 529.5 L679.0 529.9 L684.0 530.4 L689.0 530.8 L694.0 531.1 L699.0 531.2 L704.0 531.2 L709.0 531.0 L714.0 530.6 L719.0 530.2 L724.0 529.7 L726 545 L-6 545 Z" fill="#2ba0e4"/>
<path d="M-6.0 533.0 L-1.0 532.9 L4.0 532.7 L9.0 532.4 L14.0 532.1 L19.0 531.7 L24.0 531.3 L29.0 531.0 L34.0 530.7 L39.0 530.5 L44.0 530.4 L49.0 530.5 L54.0 530.8 L59.0 531.2 L64.0 531.7 L69.0 532.3 L74.0 532.7 L79.0 533.0 L84.0 533.1 L89.0 533.0 L94.0 532.8 L99.0 532.4 L104.0 532.0 L109.0 531.6 L114.0 531.3 L119.0 531.0 L124.0 530.9 L129.0 531.0 L134.0 531.3 L139.0 531.7 L144.0 532.2 L149.0 532.8 L154.0 533.4 L159.0 534.0 L164.0 534.5 L169.0 534.9 L174.0 535.1 L179.0 535.1 L184.0 534.9 L189.0 534.6 L194.0 534.2 L199.0 533.6 L204.0 533.1 L209.0 532.6 L214.0 532.2 L219.0 531.9 L224.0 531.8 L229.0 531.9 L234.0 532.1 L239.0 532.4 L244.0 532.9 L249.0 533.3 L254.0 533.8 L259.0 534.2 L264.0 534.5 L269.0 534.7 L274.0 534.7 L279.0 534.6 L284.0 534.5 L289.0 534.3 L294.0 534.0 L299.0 533.7 L304.0 533.4 L309.0 533.0 L314.0 532.8 L319.0 532.5 L324.0 532.4 L329.0 532.3 L334.0 532.3 L339.0 532.4 L344.0 532.6 L349.0 532.9 L354.0 533.3 L359.0 533.7 L364.0 534.0 L369.0 534.3 L374.0 534.6 L379.0 534.8 L384.0 534.8 L389.0 534.8 L394.0 534.7 L399.0 534.6 L404.0 534.5 L409.0 534.3 L414.0 534.1 L419.0 533.9 L424.0 533.6 L429.0 533.4 L434.0 533.2 L439.0 533.0 L444.0 532.9 L449.0 532.7 L454.0 532.6 L459.0 532.6 L464.0 532.6 L469.0 532.7 L474.0 532.9 L479.0 533.2 L484.0 533.5 L489.0 533.8 L494.0 534.1 L499.0 534.4 L504.0 534.6 L509.0 534.8 L514.0 534.8 L519.0 534.8 L524.0 534.6 L529.0 534.4 L534.0 534.1 L539.0 533.8 L544.0 533.5 L549.0 533.1 L554.0 532.8 L559.0 532.5 L564.0 532.3 L569.0 532.1 L574.0 532.1 L579.0 532.2 L584.0 532.4 L589.0 532.8 L594.0 533.3 L599.0 533.8 L604.0 534.2 L609.0 534.6 L614.0 534.8 L619.0 534.8 L624.0 534.6 L629.0 534.3 L634.0 533.8 L639.0 533.3 L644.0 532.7 L649.0 532.1 L654.0 531.7 L659.0 531.4 L664.0 531.3 L669.0 531.4 L674.0 531.6 L679.0 532.0 L684.0 532.5 L689.0 532.9 L694.0 533.3 L699.0 533.4 L704.0 533.4 L709.0 533.3 L714.0 533.0 L719.0 532.6 L724.0 532.2 L726 545 L-6 545 Z" fill="#1583d6"/>
<path d="M-6.0 535.2 L-1.0 535.2 L4.0 535.1 L9.0 534.8 L14.0 534.5 L19.0 534.2 L24.0 533.8 L29.0 533.4 L34.0 533.1 L39.0 532.9 L44.0 532.8 L49.0 532.8 L54.0 533.1 L59.0 533.4 L64.0 533.9 L69.0 534.4 L74.0 534.8 L79.0 535.2 L84.0 535.3 L89.0 535.3 L94.0 535.1 L99.0 534.9 L104.0 534.5 L109.0 534.1 L114.0 533.7 L119.0 533.4 L124.0 533.3 L129.0 533.3 L134.0 533.5 L139.0 533.8 L144.0 534.3 L149.0 534.9 L154.0 535.4 L159.0 536.0 L164.0 536.5 L169.0 536.9 L174.0 537.2 L179.0 537.3 L184.0 537.2 L189.0 536.9 L194.0 536.5 L199.0 536.0 L204.0 535.5 L209.0 535.0 L214.0 534.6 L219.0 534.3 L224.0 534.1 L229.0 534.1 L234.0 534.3 L239.0 534.6 L244.0 535.0 L249.0 535.4 L254.0 535.8 L259.0 536.3 L264.0 536.6 L269.0 536.8 L274.0 536.9 L279.0 536.8 L284.0 536.7 L289.0 536.5 L294.0 536.3 L299.0 536.0 L304.0 535.7 L309.0 535.4 L314.0 535.1 L319.0 534.9 L324.0 534.7 L329.0 534.6 L334.0 534.6 L339.0 534.7 L344.0 534.8 L349.0 535.1 L354.0 535.4 L359.0 535.7 L364.0 536.1 L369.0 536.4 L374.0 536.7 L379.0 536.9 L384.0 537.0 L389.0 537.0 L394.0 536.9 L399.0 536.8 L404.0 536.7 L409.0 536.5 L414.0 536.4 L419.0 536.2 L424.0 535.9 L429.0 535.7 L434.0 535.5 L439.0 535.3 L444.0 535.2 L449.0 535.0 L454.0 534.9 L459.0 534.9 L464.0 534.9 L469.0 534.9 L474.0 535.1 L479.0 535.3 L484.0 535.6 L489.0 535.9 L494.0 536.2 L499.0 536.5 L504.0 536.7 L509.0 536.9 L514.0 537.0 L519.0 537.0 L524.0 536.9 L529.0 536.7 L534.0 536.4 L539.0 536.1 L544.0 535.8 L549.0 535.5 L554.0 535.2 L559.0 534.9 L564.0 534.6 L569.0 534.5 L574.0 534.4 L579.0 534.4 L584.0 534.6 L589.0 534.9 L594.0 535.4 L599.0 535.8 L604.0 536.3 L609.0 536.6 L614.0 536.9 L619.0 537.0 L624.0 536.9 L629.0 536.6 L634.0 536.2 L639.0 535.7 L644.0 535.1 L649.0 534.6 L654.0 534.1 L659.0 533.8 L664.0 533.6 L669.0 533.7 L674.0 533.8 L679.0 534.2 L684.0 534.6 L689.0 535.0 L694.0 535.4 L699.0 535.6 L704.0 535.7 L709.0 535.6 L714.0 535.4 L719.0 535.0 L724.0 534.6 L726 545 L-6 545 Z" fill="#2598e0"/>
<path d="M-6.0 537.5 L-1.0 537.4 L4.0 537.4 L9.0 537.2 L14.0 536.9 L19.0 536.6 L24.0 536.2 L29.0 535.9 L34.0 535.6 L39.0 535.4 L44.0 535.2 L49.0 535.2 L54.0 535.3 L59.0 535.6 L64.0 536.0 L69.0 536.5 L74.0 536.9 L79.0 537.3 L84.0 537.5 L89.0 537.6 L94.0 537.5 L99.0 537.2 L104.0 536.9 L109.0 536.5 L114.0 536.2 L119.0 535.9 L124.0 535.7 L129.0 535.6 L134.0 535.8 L139.0 536.0 L144.0 536.4 L149.0 536.9 L154.0 537.5 L159.0 538.0 L164.0 538.5 L169.0 539.0 L174.0 539.2 L179.0 539.4 L184.0 539.4 L189.0 539.2 L194.0 538.9 L199.0 538.4 L204.0 537.9 L209.0 537.4 L214.0 537.0 L219.0 536.7 L224.0 536.5 L229.0 536.4 L234.0 536.5 L239.0 536.7 L244.0 537.1 L249.0 537.5 L254.0 537.9 L259.0 538.3 L264.0 538.7 L269.0 538.9 L274.0 539.0 L279.0 539.0 L284.0 538.9 L289.0 538.8 L294.0 538.6 L299.0 538.3 L304.0 538.0 L309.0 537.7 L314.0 537.5 L319.0 537.2 L324.0 537.0 L329.0 536.9 L334.0 536.9 L339.0 536.9 L344.0 537.0 L349.0 537.2 L354.0 537.5 L359.0 537.8 L364.0 538.2 L369.0 538.5 L374.0 538.8 L379.0 539.0 L384.0 539.1 L389.0 539.1 L394.0 539.1 L399.0 539.0 L404.0 538.9 L409.0 538.8 L414.0 538.6 L419.0 538.4 L424.0 538.2 L429.0 538.0 L434.0 537.8 L439.0 537.6 L444.0 537.5 L449.0 537.3 L454.0 537.2 L459.0 537.2 L464.0 537.1 L469.0 537.2 L474.0 537.3 L479.0 537.5 L484.0 537.7 L489.0 538.0 L494.0 538.3 L499.0 538.6 L504.0 538.8 L509.0 539.0 L514.0 539.1 L519.0 539.1 L524.0 539.1 L529.0 538.9 L534.0 538.7 L539.0 538.4 L544.0 538.1 L549.0 537.8 L554.0 537.5 L559.0 537.2 L564.0 537.0 L569.0 536.8 L574.0 536.7 L579.0 536.7 L584.0 536.8 L589.0 537.1 L594.0 537.4 L599.0 537.9 L604.0 538.3 L609.0 538.7 L614.0 539.0 L619.0 539.1 L624.0 539.1 L629.0 538.9 L634.0 538.5 L639.0 538.1 L644.0 537.6 L649.0 537.1 L654.0 536.6 L659.0 536.2 L664.0 536.0 L669.0 536.0 L674.0 536.1 L679.0 536.4 L684.0 536.7 L689.0 537.2 L694.0 537.5 L699.0 537.8 L704.0 537.9 L709.0 537.9 L714.0 537.7 L719.0 537.4 L724.0 537.0 L726 545 L-6 545 Z" fill="#0e7ad1"/>
<path d="M-6.0 539.7 L-1.0 539.7 L4.0 539.7 L9.0 539.5 L14.0 539.3 L19.0 539.0 L24.0 538.7 L29.0 538.3 L34.0 538.0 L39.0 537.8 L44.0 537.6 L49.0 537.6 L54.0 537.6 L59.0 537.9 L64.0 538.2 L69.0 538.6 L74.0 539.1 L79.0 539.5 L84.0 539.7 L89.0 539.8 L94.0 539.8 L99.0 539.6 L104.0 539.3 L109.0 539.0 L114.0 538.6 L119.0 538.3 L124.0 538.1 L129.0 538.0 L134.0 538.1 L139.0 538.3 L144.0 538.6 L149.0 539.0 L154.0 539.5 L159.0 540.1 L164.0 540.6 L169.0 541.0 L174.0 541.3 L179.0 541.5 L184.0 541.5 L189.0 541.4 L194.0 541.1 L199.0 540.8 L204.0 540.3 L209.0 539.9 L214.0 539.4 L219.0 539.1 L224.0 538.8 L229.0 538.7 L234.0 538.8 L239.0 538.9 L244.0 539.2 L249.0 539.6 L254.0 540.0 L259.0 540.4 L264.0 540.7 L269.0 541.0 L274.0 541.2 L279.0 541.2 L284.0 541.1 L289.0 541.0 L294.0 540.8 L299.0 540.6 L304.0 540.3 L309.0 540.1 L314.0 539.8 L319.0 539.6 L324.0 539.4 L329.0 539.2 L334.0 539.2 L339.0 539.2 L344.0 539.2 L349.0 539.4 L354.0 539.7 L359.0 540.0 L364.0 540.3 L369.0 540.6 L374.0 540.9 L379.0 541.1 L384.0 541.2 L389.0 541.3 L394.0 541.3 L399.0 541.2 L404.0 541.1 L409.0 541.0 L414.0 540.8 L419.0 540.7 L424.0 540.5 L429.0 540.3 L434.0 540.1 L439.0 539.9 L444.0 539.8 L449.0 539.6 L454.0 539.5 L459.0 539.4 L464.0 539.4 L469.0 539.4 L474.0 539.5 L479.0 539.6 L484.0 539.9 L489.0 540.1 L494.0 540.4 L499.0 540.7 L504.0 540.9 L509.0 541.1 L514.0 541.2 L519.0 541.3 L524.0 541.2 L529.0 541.1 L534.0 541.0 L539.0 540.7 L544.0 540.5 L549.0 540.2 L554.0 539.9 L559.0 539.6 L564.0 539.3 L569.0 539.1 L574.0 539.0 L579.0 539.0 L584.0 539.0 L589.0 539.2 L594.0 539.6 L599.0 540.0 L604.0 540.4 L609.0 540.8 L614.0 541.1 L619.0 541.2 L624.0 541.3 L629.0 541.1 L634.0 540.9 L639.0 540.5 L644.0 540.0 L649.0 539.5 L654.0 539.0 L659.0 538.7 L664.0 538.4 L669.0 538.3 L674.0 538.4 L679.0 538.6 L684.0 538.9 L689.0 539.3 L694.0 539.6 L699.0 539.9 L704.0 540.1 L709.0 540.1 L714.0 540.0 L719.0 539.8 L724.0 539.4 L726 545 L-6 545 Z" fill="#279be1"/>
<path d="M-6.0 542.0 L-1.0 542.0 L4.0 541.9 L9.0 541.8 L14.0 541.7 L19.0 541.4 L24.0 541.1 L29.0 540.8 L34.0 540.5 L39.0 540.2 L44.0 540.1 L49.0 540.0 L54.0 540.0 L59.0 540.1 L64.0 540.4 L69.0 540.8 L74.0 541.2 L79.0 541.6 L84.0 541.9 L89.0 542.1 L94.0 542.1 L99.0 541.9 L104.0 541.7 L109.0 541.4 L114.0 541.0 L119.0 540.7 L124.0 540.5 L129.0 540.4 L134.0 540.4 L139.0 540.5 L144.0 540.8 L149.0 541.2 L154.0 541.6 L159.0 542.1 L164.0 542.6 L169.0 543.0 L174.0 543.4 L179.0 543.6 L184.0 543.7 L189.0 543.6 L194.0 543.4 L199.0 543.1 L204.0 542.7 L209.0 542.3 L214.0 541.8 L219.0 541.5 L224.0 541.2 L229.0 541.0 L234.0 541.0 L239.0 541.2 L244.0 541.4 L249.0 541.7 L254.0 542.1 L259.0 542.5 L264.0 542.8 L269.0 543.1 L274.0 543.3 L279.0 543.3 L284.0 543.3 L289.0 543.2 L294.0 543.1 L299.0 542.9 L304.0 542.6 L309.0 542.4 L314.0 542.1 L319.0 541.9 L324.0 541.7 L329.0 541.5 L334.0 541.5 L339.0 541.4 L344.0 541.5 L349.0 541.6 L354.0 541.8 L359.0 542.1 L364.0 542.4 L369.0 542.7 L374.0 542.9 L379.0 543.2 L384.0 543.3 L389.0 543.4 L394.0 543.4 L399.0 543.4 L404.0 543.3 L409.0 543.2 L414.0 543.1 L419.0 542.9 L424.0 542.8 L429.0 542.6 L434.0 542.4 L439.0 542.2 L444.0 542.1 L449.0 541.9 L454.0 541.8 L459.0 541.7 L464.0 541.7 L469.0 541.7 L474.0 541.7 L479.0 541.8 L484.0 542.0 L489.0 542.2 L494.0 542.5 L499.0 542.8 L504.0 543.0 L509.0 543.2 L514.0 543.3 L519.0 543.4 L524.0 543.4 L529.0 543.3 L534.0 543.2 L539.0 543.0 L544.0 542.8 L549.0 542.5 L554.0 542.2 L559.0 541.9 L564.0 541.7 L569.0 541.5 L574.0 541.4 L579.0 541.3 L584.0 541.3 L589.0 541.4 L594.0 541.7 L599.0 542.0 L604.0 542.4 L609.0 542.8 L614.0 543.1 L619.0 543.3 L624.0 543.4 L629.0 543.4 L634.0 543.2 L639.0 542.8 L644.0 542.4 L649.0 541.9 L654.0 541.5 L659.0 541.1 L664.0 540.8 L669.0 540.6 L674.0 540.7 L679.0 540.8 L684.0 541.1 L689.0 541.4 L694.0 541.8 L699.0 542.1 L704.0 542.3 L709.0 542.3 L714.0 542.3 L719.0 542.1 L724.0 541.8 L726 545 L-6 545 Z" fill="#0d78d0"/>
<path d="M-6.0 490.6 L-1.0 489.9 L4.0 489.4 L9.0 489.1 L14.0 489.0 L19.0 489.3 L24.0 489.9 L29.0 490.8 L34.0 491.9 L39.0 492.9 L44.0 493.7 L49.0 494.2 L54.0 494.3 L59.0 494.1 L64.0 493.5 L69.0 492.8 L74.0 492.0 L79.0 491.2 L84.0 490.5 L89.0 490.1 L94.0 490.0 L99.0 490.3 L104.0 490.9 L109.0 491.7 L114.0 492.8 L119.0 494.0 L124.0 495.2 L129.0 496.4 L134.0 497.3 L139.0 497.9 L144.0 498.3 L149.0 498.2 L154.0 497.8 L159.0 497.1 L164.0 496.2 L169.0 495.1 L174.0 494.0 L179.0 493.0 L184.0 492.3 L189.0 491.8 L194.0 491.7 L199.0 491.9 L204.0 492.4 L209.0 493.1 L214.0 494.0 L219.0 495.0 L224.0 495.9 L229.0 496.7 L234.0 497.2 L239.0 497.5 L244.0 497.5 L249.0 497.3 L254.0 496.9 L259.0 496.5 L264.0 495.9 L269.0 495.3 L274.0 494.7 L279.0 494.1 L284.0 493.5 L289.0 493.1 L294.0 492.8 L299.0 492.7 L304.0 492.8 L309.0 493.0 L314.0 493.5 L319.0 494.1 L324.0 494.8 L329.0 495.6 L334.0 496.3 L339.0 496.9 L344.0 497.4 L349.0 497.6 L354.0 497.7 L359.0 497.6 L364.0 497.5 L369.0 497.2 L374.0 496.9 L379.0 496.6 L384.0 496.2 L389.0 495.7 L394.0 495.3 L399.0 494.8 L404.0 494.4 L409.0 494.1 L414.0 493.8 L419.0 493.5 L424.0 493.4 L429.0 493.3 L434.0 493.4 L439.0 493.6 L444.0 494.0 L449.0 494.6 L454.0 495.2 L459.0 495.8 L464.0 496.4 L469.0 497.0 L474.0 497.4 L479.0 497.6 L484.0 497.7 L489.0 497.6 L494.0 497.3 L499.0 496.8 L504.0 496.2 L509.0 495.6 L514.0 494.9 L519.0 494.2 L524.0 493.5 L529.0 493.0 L534.0 492.6 L539.0 492.4 L544.0 492.3 L549.0 492.6 L554.0 493.1 L559.0 493.9 L564.0 494.9 L569.0 495.9 L574.0 496.7 L579.0 497.4 L584.0 497.7 L589.0 497.6 L594.0 497.2 L599.0 496.5 L604.0 495.5 L609.0 494.3 L614.0 493.2 L619.0 492.1 L624.0 491.3 L629.0 490.8 L634.0 490.7 L639.0 491.0 L644.0 491.6 L649.0 492.4 L654.0 493.3 L659.0 494.1 L664.0 494.7 L669.0 495.0 L674.0 494.9 L679.0 494.5 L684.0 493.9 L689.0 493.1 L694.0 492.2 L699.0 491.2 L704.0 490.2 L709.0 489.4 L714.0 488.7 L719.0 488.2 L724.0 488.0" fill="none" stroke="#d9f3ff" stroke-width="0.7" opacity="0.38" stroke-dasharray="4 3 4 3 6 28" stroke-dashoffset="28"/>
<path d="M-6.0 497.7 L-1.0 497.0 L4.0 496.4 L9.0 496.0 L14.0 495.7 L19.0 495.7 L24.0 496.1 L29.0 496.7 L34.0 497.6 L39.0 498.5 L44.0 499.4 L49.0 500.1 L54.0 500.5 L59.0 500.6 L64.0 500.3 L69.0 499.8 L74.0 499.1 L79.0 498.3 L84.0 497.6 L89.0 497.0 L94.0 496.7 L99.0 496.6 L104.0 496.9 L109.0 497.5 L114.0 498.4 L119.0 499.4 L124.0 500.6 L129.0 501.7 L134.0 502.7 L139.0 503.5 L144.0 504.0 L149.0 504.3 L154.0 504.2 L159.0 503.7 L164.0 503.0 L169.0 502.1 L174.0 501.1 L179.0 500.1 L184.0 499.3 L189.0 498.6 L194.0 498.2 L199.0 498.2 L204.0 498.5 L209.0 499.0 L214.0 499.7 L219.0 500.5 L224.0 501.4 L229.0 502.2 L234.0 502.9 L239.0 503.3 L244.0 503.5 L249.0 503.5 L254.0 503.3 L259.0 502.9 L264.0 502.5 L269.0 502.0 L274.0 501.4 L279.0 500.8 L284.0 500.2 L289.0 499.8 L294.0 499.4 L299.0 499.2 L304.0 499.1 L309.0 499.2 L314.0 499.5 L319.0 500.0 L324.0 500.5 L329.0 501.2 L334.0 501.9 L339.0 502.5 L344.0 503.1 L349.0 503.5 L354.0 503.7 L359.0 503.7 L364.0 503.6 L369.0 503.5 L374.0 503.2 L379.0 502.9 L384.0 502.6 L389.0 502.2 L394.0 501.8 L399.0 501.4 L404.0 501.0 L409.0 500.6 L414.0 500.3 L419.0 500.0 L424.0 499.8 L429.0 499.7 L434.0 499.7 L439.0 499.7 L444.0 500.0 L449.0 500.4 L454.0 500.9 L459.0 501.5 L464.0 502.1 L469.0 502.7 L474.0 503.1 L479.0 503.5 L484.0 503.7 L489.0 503.7 L494.0 503.5 L499.0 503.2 L504.0 502.8 L509.0 502.2 L514.0 501.6 L519.0 501.0 L524.0 500.3 L529.0 499.8 L534.0 499.3 L539.0 498.9 L544.0 498.8 L549.0 498.8 L554.0 499.1 L559.0 499.6 L564.0 500.4 L569.0 501.3 L574.0 502.2 L579.0 502.9 L584.0 503.5 L589.0 503.7 L594.0 503.6 L599.0 503.1 L604.0 502.4 L609.0 501.4 L614.0 500.4 L619.0 499.3 L624.0 498.4 L629.0 497.7 L634.0 497.3 L639.0 497.3 L644.0 497.6 L649.0 498.2 L654.0 499.0 L659.0 499.8 L664.0 500.5 L669.0 501.0 L674.0 501.2 L679.0 501.1 L684.0 500.7 L689.0 500.1 L694.0 499.3 L699.0 498.5 L704.0 497.5 L709.0 496.7 L714.0 495.9 L719.0 495.3 L724.0 494.9" fill="none" stroke="#d9f3ff" stroke-width="0.7" opacity="0.38" stroke-dasharray="4 5 2 5 5 39" stroke-dashoffset="0"/>
<path d="M-6.0 504.8 L-1.0 504.1 L4.0 503.5 L9.0 503.0 L14.0 502.6 L19.0 502.4 L24.0 502.4 L29.0 502.8 L34.0 503.5 L39.0 504.3 L44.0 505.1 L49.0 505.9 L54.0 506.5 L59.0 506.8 L64.0 506.8 L69.0 506.5 L74.0 506.0 L79.0 505.3 L84.0 504.6 L89.0 504.0 L94.0 503.5 L99.0 503.3 L104.0 503.3 L109.0 503.6 L114.0 504.2 L119.0 505.0 L124.0 506.0 L129.0 507.0 L134.0 508.0 L139.0 508.9 L144.0 509.6 L149.0 510.1 L154.0 510.2 L159.0 510.1 L164.0 509.6 L169.0 508.9 L174.0 508.1 L179.0 507.2 L184.0 506.3 L189.0 505.5 L194.0 505.0 L199.0 504.7 L204.0 504.7 L209.0 505.0 L214.0 505.5 L219.0 506.2 L224.0 506.9 L229.0 507.7 L234.0 508.5 L239.0 509.0 L244.0 509.4 L249.0 509.6 L254.0 509.5 L259.0 509.3 L264.0 508.9 L269.0 508.5 L274.0 508.0 L279.0 507.5 L284.0 506.9 L289.0 506.5 L294.0 506.0 L299.0 505.7 L304.0 505.5 L309.0 505.5 L314.0 505.6 L319.0 505.9 L324.0 506.4 L329.0 506.9 L334.0 507.5 L339.0 508.2 L344.0 508.7 L349.0 509.2 L354.0 509.5 L359.0 509.7 L364.0 509.7 L369.0 509.6 L374.0 509.5 L379.0 509.2 L384.0 509.0 L389.0 508.6 L394.0 508.3 L399.0 507.9 L404.0 507.5 L409.0 507.2 L414.0 506.8 L419.0 506.5 L424.0 506.3 L429.0 506.1 L434.0 506.0 L439.0 506.0 L444.0 506.1 L449.0 506.4 L454.0 506.8 L459.0 507.3 L464.0 507.8 L469.0 508.4 L474.0 508.9 L479.0 509.3 L484.0 509.6 L489.0 509.7 L494.0 509.7 L499.0 509.5 L504.0 509.2 L509.0 508.8 L514.0 508.3 L519.0 507.7 L524.0 507.1 L529.0 506.5 L534.0 506.0 L539.0 505.6 L544.0 505.3 L549.0 505.2 L554.0 505.2 L559.0 505.5 L564.0 506.1 L569.0 506.9 L574.0 507.7 L579.0 508.5 L584.0 509.1 L589.0 509.6 L594.0 509.7 L599.0 509.6 L604.0 509.1 L609.0 508.4 L614.0 507.5 L619.0 506.5 L624.0 505.5 L629.0 504.7 L634.0 504.1 L639.0 503.8 L644.0 503.9 L649.0 504.2 L654.0 504.8 L659.0 505.6 L664.0 506.3 L669.0 506.9 L674.0 507.3 L679.0 507.4 L684.0 507.3 L689.0 506.9 L694.0 506.3 L699.0 505.6 L704.0 504.7 L709.0 503.9 L714.0 503.1 L719.0 502.4 L724.0 501.9" fill="none" stroke="#d9f3ff" stroke-width="0.7" opacity="0.38" stroke-dasharray="3 4 4 4 6 13" stroke-dashoffset="45"/>
<path d="M-6.0 511.7 L-1.0 511.1 L4.0 510.5 L9.0 510.0 L14.0 509.5 L19.0 509.2 L24.0 509.1 L29.0 509.2 L34.0 509.6 L39.0 510.2 L44.0 510.9 L49.0 511.7 L54.0 512.4 L59.0 512.9 L64.0 513.1 L69.0 513.0 L74.0 512.7 L79.0 512.2 L84.0 511.6 L89.0 511.0 L94.0 510.4 L99.0 510.0 L104.0 509.8 L109.0 509.9 L114.0 510.3 L119.0 510.9 L124.0 511.7 L129.0 512.5 L134.0 513.5 L139.0 514.4 L144.0 515.2 L149.0 515.7 L154.0 516.1 L159.0 516.2 L164.0 516.0 L169.0 515.5 L174.0 514.9 L179.0 514.1 L184.0 513.2 L189.0 512.5 L194.0 511.8 L199.0 511.3 L204.0 511.1 L209.0 511.2 L214.0 511.5 L219.0 512.0 L224.0 512.6 L229.0 513.4 L234.0 514.1 L239.0 514.7 L244.0 515.2 L249.0 515.5 L254.0 515.6 L259.0 515.5 L264.0 515.3 L269.0 514.9 L274.0 514.5 L279.0 514.1 L284.0 513.6 L289.0 513.1 L294.0 512.7 L299.0 512.3 L304.0 512.1 L309.0 511.9 L314.0 511.9 L319.0 512.1 L324.0 512.4 L329.0 512.8 L334.0 513.3 L339.0 513.9 L344.0 514.4 L349.0 514.9 L354.0 515.3 L359.0 515.6 L364.0 515.7 L369.0 515.7 L374.0 515.6 L379.0 515.5 L384.0 515.2 L389.0 515.0 L394.0 514.7 L399.0 514.4 L404.0 514.0 L409.0 513.7 L414.0 513.3 L419.0 513.1 L424.0 512.8 L429.0 512.6 L434.0 512.5 L439.0 512.4 L444.0 512.4 L449.0 512.5 L454.0 512.8 L459.0 513.1 L464.0 513.6 L469.0 514.1 L474.0 514.6 L479.0 515.0 L484.0 515.4 L489.0 515.6 L494.0 515.7 L499.0 515.7 L504.0 515.5 L509.0 515.2 L514.0 514.8 L519.0 514.3 L524.0 513.8 L529.0 513.2 L534.0 512.7 L539.0 512.3 L544.0 511.9 L549.0 511.7 L554.0 511.6 L559.0 511.7 L564.0 512.0 L569.0 512.6 L574.0 513.3 L579.0 514.0 L584.0 514.7 L589.0 515.3 L594.0 515.6 L599.0 515.7 L604.0 515.5 L609.0 515.0 L614.0 514.3 L619.0 513.5 L624.0 512.6 L629.0 511.8 L634.0 511.1 L639.0 510.6 L644.0 510.4 L649.0 510.5 L654.0 510.8 L659.0 511.4 L664.0 512.1 L669.0 512.8 L674.0 513.3 L679.0 513.6 L684.0 513.6 L689.0 513.5 L694.0 513.1 L699.0 512.5 L704.0 511.8 L709.0 511.1 L714.0 510.3 L719.0 509.6 L724.0 509.0" fill="none" stroke="#d9f3ff" stroke-width="0.7" opacity="0.38" stroke-dasharray="5 4 2 5 5 9" stroke-dashoffset="4"/>
<path d="M-6.0 518.5 L-1.0 518.0 L4.0 517.5 L9.0 517.0 L14.0 516.5 L19.0 516.1 L24.0 515.9 L29.0 515.8 L34.0 515.9 L39.0 516.3 L44.0 516.9 L49.0 517.6 L54.0 518.3 L59.0 518.9 L64.0 519.3 L69.0 519.4 L74.0 519.3 L79.0 519.0 L84.0 518.5 L89.0 517.9 L94.0 517.4 L99.0 516.9 L104.0 516.6 L109.0 516.5 L114.0 516.6 L119.0 516.9 L124.0 517.5 L129.0 518.2 L134.0 519.1 L139.0 519.9 L144.0 520.7 L149.0 521.3 L154.0 521.8 L159.0 522.1 L164.0 522.1 L169.0 521.9 L174.0 521.5 L179.0 520.8 L184.0 520.1 L189.0 519.4 L194.0 518.7 L199.0 518.1 L204.0 517.7 L209.0 517.6 L214.0 517.7 L219.0 518.0 L224.0 518.5 L229.0 519.1 L234.0 519.7 L239.0 520.4 L244.0 520.9 L249.0 521.3 L254.0 521.6 L259.0 521.6 L264.0 521.5 L269.0 521.3 L274.0 521.0 L279.0 520.6 L284.0 520.2 L289.0 519.7 L294.0 519.3 L299.0 518.9 L304.0 518.6 L309.0 518.4 L314.0 518.3 L319.0 518.3 L324.0 518.5 L329.0 518.8 L334.0 519.2 L339.0 519.7 L344.0 520.2 L349.0 520.7 L354.0 521.1 L359.0 521.4 L364.0 521.7 L369.0 521.7 L374.0 521.7 L379.0 521.6 L384.0 521.5 L389.0 521.3 L394.0 521.0 L399.0 520.7 L404.0 520.4 L409.0 520.1 L414.0 519.8 L419.0 519.5 L424.0 519.3 L429.0 519.1 L434.0 518.9 L439.0 518.8 L444.0 518.7 L449.0 518.7 L454.0 518.9 L459.0 519.1 L464.0 519.5 L469.0 519.9 L474.0 520.4 L479.0 520.8 L484.0 521.2 L489.0 521.5 L494.0 521.7 L499.0 521.7 L504.0 521.7 L509.0 521.5 L514.0 521.2 L519.0 520.8 L524.0 520.4 L529.0 519.9 L534.0 519.4 L539.0 519.0 L544.0 518.6 L549.0 518.3 L554.0 518.1 L559.0 518.0 L564.0 518.2 L569.0 518.5 L574.0 519.0 L579.0 519.7 L584.0 520.4 L589.0 521.0 L594.0 521.4 L599.0 521.7 L604.0 521.7 L609.0 521.5 L614.0 521.0 L619.0 520.3 L624.0 519.6 L629.0 518.8 L634.0 518.0 L639.0 517.5 L644.0 517.1 L649.0 516.9 L654.0 517.1 L659.0 517.4 L664.0 518.0 L669.0 518.6 L674.0 519.2 L679.0 519.6 L684.0 519.9 L689.0 519.9 L694.0 519.6 L699.0 519.3 L704.0 518.7 L709.0 518.1 L714.0 517.4 L719.0 516.7 L724.0 516.1" fill="none" stroke="#d9f3ff" stroke-width="0.7" opacity="0.38" stroke-dasharray="3 4 2 4 6 12" stroke-dashoffset="1"/>
<path d="M-6.0 525.2 L-1.0 524.8 L4.0 524.4 L9.0 523.9 L14.0 523.4 L19.0 523.0 L24.0 522.7 L29.0 522.5 L34.0 522.5 L39.0 522.6 L44.0 523.0 L49.0 523.6 L54.0 524.2 L59.0 524.8 L64.0 525.3 L69.0 525.6 L74.0 525.7 L79.0 525.5 L84.0 525.2 L89.0 524.8 L94.0 524.3 L99.0 523.8 L104.0 523.4 L109.0 523.1 L114.0 523.1 L119.0 523.2 L124.0 523.6 L129.0 524.1 L134.0 524.8 L139.0 525.5 L144.0 526.3 L149.0 526.9 L154.0 527.5 L159.0 527.9 L164.0 528.1 L169.0 528.1 L174.0 527.8 L179.0 527.4 L184.0 526.8 L189.0 526.2 L194.0 525.5 L199.0 524.9 L204.0 524.5 L209.0 524.2 L214.0 524.1 L219.0 524.2 L224.0 524.5 L229.0 525.0 L234.0 525.5 L239.0 526.1 L244.0 526.6 L249.0 527.1 L254.0 527.4 L259.0 527.6 L264.0 527.6 L269.0 527.5 L274.0 527.3 L279.0 527.0 L284.0 526.7 L289.0 526.3 L294.0 525.9 L299.0 525.5 L304.0 525.2 L309.0 525.0 L314.0 524.8 L319.0 524.7 L324.0 524.8 L329.0 524.9 L334.0 525.2 L339.0 525.6 L344.0 526.0 L349.0 526.5 L354.0 526.9 L359.0 527.3 L364.0 527.5 L369.0 527.7 L374.0 527.7 L379.0 527.7 L384.0 527.6 L389.0 527.5 L394.0 527.3 L399.0 527.1 L404.0 526.8 L409.0 526.5 L414.0 526.3 L419.0 526.0 L424.0 525.8 L429.0 525.5 L434.0 525.3 L439.0 525.2 L444.0 525.1 L449.0 525.1 L454.0 525.1 L459.0 525.3 L464.0 525.5 L469.0 525.8 L474.0 526.2 L479.0 526.6 L484.0 527.0 L489.0 527.3 L494.0 527.6 L499.0 527.7 L504.0 527.7 L509.0 527.7 L514.0 527.5 L519.0 527.2 L524.0 526.9 L529.0 526.4 L534.0 526.0 L539.0 525.6 L544.0 525.2 L549.0 524.9 L554.0 524.6 L559.0 524.5 L564.0 524.5 L569.0 524.6 L574.0 525.0 L579.0 525.5 L584.0 526.0 L589.0 526.6 L594.0 527.2 L599.0 527.5 L604.0 527.7 L609.0 527.7 L614.0 527.4 L619.0 527.0 L624.0 526.4 L629.0 525.7 L634.0 525.0 L639.0 524.4 L644.0 523.9 L649.0 523.6 L654.0 523.5 L659.0 523.7 L664.0 524.0 L669.0 524.5 L674.0 525.1 L679.0 525.6 L684.0 525.9 L689.0 526.1 L694.0 526.1 L699.0 525.8 L704.0 525.5 L709.0 525.0 L714.0 524.4 L719.0 523.8 L724.0 523.2" fill="none" stroke="#d9f3ff" stroke-width="0.7" opacity="0.38" stroke-dasharray="3 3 2 3 6 32" stroke-dashoffset="45"/>
<path d="M-6.0 531.7 L-1.0 531.4 L4.0 531.1 L9.0 530.7 L14.0 530.3 L19.0 529.9 L24.0 529.6 L29.0 529.3 L34.0 529.2 L39.0 529.2 L44.0 529.4 L49.0 529.7 L54.0 530.2 L59.0 530.8 L64.0 531.3 L69.0 531.7 L74.0 531.9 L79.0 531.9 L84.0 531.8 L89.0 531.5 L94.0 531.1 L99.0 530.6 L104.0 530.2 L109.0 529.9 L114.0 529.7 L119.0 529.7 L124.0 529.9 L129.0 530.2 L134.0 530.7 L139.0 531.3 L144.0 531.9 L149.0 532.6 L154.0 533.2 L159.0 533.6 L164.0 533.9 L169.0 534.1 L174.0 534.0 L179.0 533.8 L184.0 533.4 L189.0 532.8 L194.0 532.3 L199.0 531.7 L204.0 531.2 L209.0 530.8 L214.0 530.6 L219.0 530.6 L224.0 530.7 L229.0 531.0 L234.0 531.4 L239.0 531.9 L244.0 532.4 L249.0 532.9 L254.0 533.3 L259.0 533.5 L264.0 533.6 L269.0 533.6 L274.0 533.5 L279.0 533.3 L284.0 533.1 L289.0 532.7 L294.0 532.4 L299.0 532.1 L304.0 531.8 L309.0 531.5 L314.0 531.3 L319.0 531.2 L324.0 531.1 L329.0 531.2 L334.0 531.3 L339.0 531.6 L344.0 531.9 L349.0 532.3 L354.0 532.7 L359.0 533.1 L364.0 533.4 L369.0 533.6 L374.0 533.7 L379.0 533.8 L384.0 533.7 L389.0 533.6 L394.0 533.5 L399.0 533.3 L404.0 533.1 L409.0 532.9 L414.0 532.7 L419.0 532.4 L424.0 532.2 L429.0 532.0 L434.0 531.8 L439.0 531.6 L444.0 531.5 L449.0 531.5 L454.0 531.4 L459.0 531.5 L464.0 531.6 L469.0 531.9 L474.0 532.2 L479.0 532.5 L484.0 532.8 L489.0 533.2 L494.0 533.4 L499.0 533.6 L504.0 533.7 L509.0 533.7 L514.0 533.7 L519.0 533.5 L524.0 533.2 L529.0 532.9 L534.0 532.6 L539.0 532.2 L544.0 531.8 L549.0 531.5 L554.0 531.2 L559.0 531.0 L564.0 530.9 L569.0 530.9 L574.0 531.1 L579.0 531.4 L584.0 531.9 L589.0 532.4 L594.0 532.9 L599.0 533.3 L604.0 533.6 L609.0 533.8 L614.0 533.7 L619.0 533.4 L624.0 533.0 L629.0 532.5 L634.0 531.8 L639.0 531.2 L644.0 530.7 L649.0 530.3 L654.0 530.1 L659.0 530.1 L664.0 530.3 L669.0 530.6 L674.0 531.0 L679.0 531.5 L684.0 531.9 L689.0 532.2 L694.0 532.3 L699.0 532.3 L704.0 532.0 L709.0 531.7 L714.0 531.2 L719.0 530.7 L724.0 530.2" fill="none" stroke="#d9f3ff" stroke-width="0.7" opacity="0.38" stroke-dasharray="6 4 2 5 8 20" stroke-dashoffset="49"/>
<path d="M-6.0 538.1 L-1.0 538.0 L4.0 537.7 L9.0 537.5 L14.0 537.1 L19.0 536.8 L24.0 536.4 L29.0 536.2 L34.0 536.0 L39.0 535.9 L44.0 535.9 L49.0 536.1 L54.0 536.4 L59.0 536.9 L64.0 537.3 L69.0 537.7 L74.0 538.1 L79.0 538.2 L84.0 538.2 L89.0 538.1 L94.0 537.8 L99.0 537.4 L104.0 537.0 L109.0 536.7 L114.0 536.4 L119.0 536.3 L124.0 536.3 L129.0 536.5 L134.0 536.8 L139.0 537.3 L144.0 537.8 L149.0 538.3 L154.0 538.9 L159.0 539.3 L164.0 539.7 L169.0 540.0 L174.0 540.0 L179.0 540.0 L184.0 539.7 L189.0 539.3 L194.0 538.9 L199.0 538.4 L204.0 537.9 L209.0 537.5 L214.0 537.2 L219.0 537.1 L224.0 537.1 L229.0 537.2 L234.0 537.5 L239.0 537.9 L244.0 538.3 L249.0 538.7 L254.0 539.1 L259.0 539.4 L264.0 539.6 L269.0 539.7 L274.0 539.6 L279.0 539.5 L284.0 539.3 L289.0 539.1 L294.0 538.9 L299.0 538.6 L304.0 538.3 L309.0 538.0 L314.0 537.8 L319.0 537.6 L324.0 537.5 L329.0 537.5 L334.0 537.6 L339.0 537.7 L344.0 538.0 L349.0 538.3 L354.0 538.6 L359.0 538.9 L364.0 539.2 L369.0 539.5 L374.0 539.7 L379.0 539.8 L384.0 539.8 L389.0 539.7 L394.0 539.6 L399.0 539.5 L404.0 539.4 L409.0 539.2 L414.0 539.0 L419.0 538.8 L424.0 538.6 L429.0 538.4 L434.0 538.2 L439.0 538.1 L444.0 537.9 L449.0 537.9 L454.0 537.8 L459.0 537.8 L464.0 537.8 L469.0 538.0 L474.0 538.2 L479.0 538.5 L484.0 538.7 L489.0 539.0 L494.0 539.3 L499.0 539.5 L504.0 539.7 L509.0 539.8 L514.0 539.8 L519.0 539.7 L524.0 539.5 L529.0 539.3 L534.0 539.0 L539.0 538.7 L544.0 538.4 L549.0 538.1 L554.0 537.8 L559.0 537.6 L564.0 537.4 L569.0 537.3 L574.0 537.4 L579.0 537.5 L584.0 537.8 L589.0 538.2 L594.0 538.7 L599.0 539.1 L604.0 539.5 L609.0 539.7 L614.0 539.8 L619.0 539.7 L624.0 539.4 L629.0 539.0 L634.0 538.6 L639.0 538.0 L644.0 537.5 L649.0 537.1 L654.0 536.8 L659.0 536.6 L664.0 536.6 L669.0 536.8 L674.0 537.1 L679.0 537.5 L684.0 537.9 L689.0 538.3 L694.0 538.5 L699.0 538.5 L704.0 538.5 L709.0 538.2 L714.0 537.9 L719.0 537.5 L724.0 537.1" fill="none" stroke="#d9f3ff" stroke-width="0.7" opacity="0.38" stroke-dasharray="5 4 2 4 5 8" stroke-dashoffset="26"/>
<g id="logo"><circle cx="609.2" cy="527" r="6.8" fill="#fff"/><circle cx="607.2" cy="525.6" r="2.6" fill="#2a8fd6"/><circle cx="607.2" cy="525.6" r="1" fill="#fff"/><circle cx="612.2" cy="529.4" r="1.9" fill="#2a8fd6"/><circle cx="612.2" cy="529.4" r="0.7" fill="#fff"/><circle cx="612.4" cy="523.6" r="1.1" fill="#2a8fd6"/><circle cx="603.2" cy="532.4" r="0.9" fill="#fff"/><circle cx="615.4" cy="533.2" r="1" fill="#fff"/></g></svg>
<div class="t exp" id="t_exp1" style="left:151px;top:11.8px;"><span class="s15">出口</span><span class="big dg">6.85</span><span class="s15">万亿元</span></div>
<div class="t exp s15" id="t_exp2" style="left:167px;top:42.5px;">同比增长11.9%</div>
<div class="t imp" id="t_imp1" style="left:378px;top:112.5px;"><span class="s15">进口</span><span class="big dg">4.99</span><span class="s15">万亿元</span></div>
<div class="t imp s15" id="t_imp2" style="left:393px;top:142.4px;">同比增长19.6%</div>
<div class="t pn s15" id="t_p1" style="left:535.5px;top:20.6px;">2026年一季度</div>
<div class="t pn s15" id="t_p2" style="left:535.5px;top:39px;">我国货物贸易进出口总值</div>
<div class="t pn s30" id="t_p3" style="left:536px;top:64px;"><span class="d dg">11.84</span>万亿元</div>
<div class="t pn s15" id="t_p4" style="left:535.5px;top:93.7px;">同比增长15%</div>
<div class="t bn" id="t_bn" style="left:120px;top:201.5px;">进出口总值</div>
<div class="t lg s15" id="t_lg" style="left:140px;top:247px;">同比增长</div>
<div class="t val vr" id="t_v0" style="left:138.1px;top:295.7px;transform:translateX(-50%);"><span>14.2%</span></div>
<div class="t val vr" id="t_v1" style="left:220.3px;top:286.8px;transform:translateX(-50%);"><span>15.4%</span></div>
<div class="t val vr" id="t_v2" style="left:303.4px;top:286.8px;transform:translateX(-50%);"><span>15.4%</span></div>
<div class="t val vb" id="t_v3" style="left:387.6px;top:230.6px;transform:translateX(-50%);"><span>23.7%</span></div>
<div class="t val vb" id="t_v4" style="left:466.0px;top:295.1px;transform:translateX(-50%);"><span>14.6%</span></div>
<div class="t val vb" id="t_v5" style="left:550.3px;top:304.0px;transform:translateX(-50%);"><span>13.4%</span></div>
<div class="t cat" id="t_c0" style="left:138.5px;top:418.6px;transform:translateX(-50%);">对共建<br><span class="q">“</span>一带一路<span class="q">”</span><br>国家</div>
<div class="t cat" id="t_c1" style="left:221.3px;top:427.2px;transform:translateX(-50%);">对东盟</div>
<div class="t cat" id="t_c2" style="left:303.5px;top:427.2px;transform:translateX(-50%);">对拉美</div>
<div class="t cat" id="t_c3" style="left:391.5px;top:427.2px;transform:translateX(-50%);">对非洲</div>
<div class="t cat" id="t_c4" style="left:468.5px;top:427.2px;transform:translateX(-50%);">对欧盟</div>
<div class="t cat" id="t_c5" style="left:556px;top:428px;transform:translateX(-50%);">对亚太经合<br>组织其他经济体</div>
<div class="t src s15" id="t_src" style="left:16px;top:507px;">数据来源<span class="col">:</span>海关总署</div>
<div class="t logo" id="t_logo" style="left:618.3px;top:521.7px;">Fantastic Graphics</div>
</div>
</body>
</html>
